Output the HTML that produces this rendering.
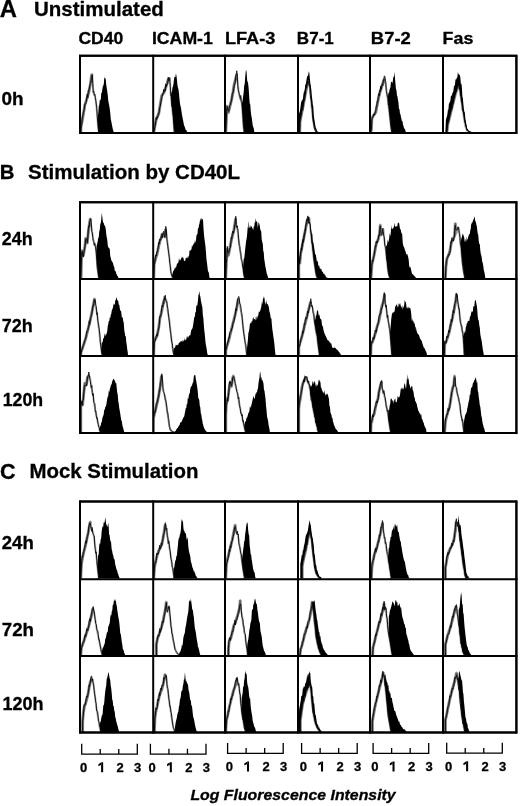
<!DOCTYPE html>
<html><head><meta charset="utf-8"><style>
html,body{margin:0;padding:0;background:#fff;width:520px;height:806px;overflow:hidden}
svg{display:block;filter:blur(0.4px)}
</style></head><body>
<svg width="520" height="806" viewBox="0 0 520 806">
<defs><clipPath id="kA0"><rect x="80.00" y="55.80" width="73.20" height="77.20"/></clipPath><clipPath id="kA1"><rect x="153.20" y="55.80" width="71.80" height="77.20"/></clipPath><clipPath id="kA2"><rect x="225.00" y="55.80" width="73.00" height="77.20"/></clipPath><clipPath id="kA3"><rect x="298.00" y="55.80" width="72.00" height="77.20"/></clipPath><clipPath id="kA4"><rect x="370.00" y="55.80" width="73.00" height="77.20"/></clipPath><clipPath id="kA5"><rect x="443.00" y="55.80" width="73.40" height="77.20"/></clipPath><clipPath id="kB10"><rect x="80.00" y="202.20" width="73.20" height="76.80"/></clipPath><clipPath id="kB11"><rect x="153.20" y="202.20" width="71.80" height="76.80"/></clipPath><clipPath id="kB12"><rect x="225.00" y="202.20" width="73.00" height="76.80"/></clipPath><clipPath id="kB13"><rect x="298.00" y="202.20" width="72.00" height="76.80"/></clipPath><clipPath id="kB14"><rect x="370.00" y="202.20" width="73.00" height="76.80"/></clipPath><clipPath id="kB15"><rect x="443.00" y="202.20" width="73.40" height="76.80"/></clipPath><clipPath id="kB20"><rect x="80.00" y="279.00" width="73.20" height="77.00"/></clipPath><clipPath id="kB21"><rect x="153.20" y="279.00" width="71.80" height="77.00"/></clipPath><clipPath id="kB22"><rect x="225.00" y="279.00" width="73.00" height="77.00"/></clipPath><clipPath id="kB23"><rect x="298.00" y="279.00" width="72.00" height="77.00"/></clipPath><clipPath id="kB24"><rect x="370.00" y="279.00" width="73.00" height="77.00"/></clipPath><clipPath id="kB25"><rect x="443.00" y="279.00" width="73.40" height="77.00"/></clipPath><clipPath id="kB30"><rect x="80.00" y="356.00" width="73.20" height="77.10"/></clipPath><clipPath id="kB31"><rect x="153.20" y="356.00" width="71.80" height="77.10"/></clipPath><clipPath id="kB32"><rect x="225.00" y="356.00" width="73.00" height="77.10"/></clipPath><clipPath id="kB33"><rect x="298.00" y="356.00" width="72.00" height="77.10"/></clipPath><clipPath id="kB34"><rect x="370.00" y="356.00" width="73.00" height="77.10"/></clipPath><clipPath id="kB35"><rect x="443.00" y="356.00" width="73.40" height="77.10"/></clipPath><clipPath id="kC10"><rect x="80.00" y="501.40" width="73.20" height="77.80"/></clipPath><clipPath id="kC11"><rect x="153.20" y="501.40" width="71.80" height="77.80"/></clipPath><clipPath id="kC12"><rect x="225.00" y="501.40" width="73.00" height="77.80"/></clipPath><clipPath id="kC13"><rect x="298.00" y="501.40" width="72.00" height="77.80"/></clipPath><clipPath id="kC14"><rect x="370.00" y="501.40" width="73.00" height="77.80"/></clipPath><clipPath id="kC15"><rect x="443.00" y="501.40" width="73.40" height="77.80"/></clipPath><clipPath id="kC20"><rect x="80.00" y="579.20" width="73.20" height="76.80"/></clipPath><clipPath id="kC21"><rect x="153.20" y="579.20" width="71.80" height="76.80"/></clipPath><clipPath id="kC22"><rect x="225.00" y="579.20" width="73.00" height="76.80"/></clipPath><clipPath id="kC23"><rect x="298.00" y="579.20" width="72.00" height="76.80"/></clipPath><clipPath id="kC24"><rect x="370.00" y="579.20" width="73.00" height="76.80"/></clipPath><clipPath id="kC25"><rect x="443.00" y="579.20" width="73.40" height="76.80"/></clipPath><clipPath id="kC30"><rect x="80.00" y="656.00" width="73.20" height="76.60"/></clipPath><clipPath id="kC31"><rect x="153.20" y="656.00" width="71.80" height="76.60"/></clipPath><clipPath id="kC32"><rect x="225.00" y="656.00" width="73.00" height="76.60"/></clipPath><clipPath id="kC33"><rect x="298.00" y="656.00" width="72.00" height="76.60"/></clipPath><clipPath id="kC34"><rect x="370.00" y="656.00" width="73.00" height="76.60"/></clipPath><clipPath id="kC35"><rect x="443.00" y="656.00" width="73.40" height="76.60"/></clipPath></defs>
<rect width="520" height="806" fill="#fff"/>
<g clip-path="url(#kA0)"><polygon points="96.77,132.46 96.77,132.50 97.27,124.50 97.77,116.69 98.27,113.03 98.77,106.18 99.27,105.10 99.77,100.27 100.27,99.29 100.77,100.42 101.27,92.53 101.77,93.29 102.27,89.83 102.77,86.56 103.27,85.75 103.77,83.98 104.27,78.24 104.77,77.18 105.27,78.21 105.77,79.58 106.27,84.91 106.77,88.28 107.27,91.53 107.77,95.29 108.27,100.69 108.77,103.34 109.27,105.90 109.77,108.80 110.27,113.36 110.77,119.07 111.27,121.36 111.77,123.98 112.27,126.42 112.77,128.90 113.27,130.80 113.69,132.46" fill="#000"/><polygon points="80.77,132.46 81.08,126.31 82.62,118.62 84.92,104.77 86.46,100.15 88.77,92.46 90.31,84.77 91.54,75.54 92.15,74.00 92.77,81.69 93.38,92.46 94.92,95.54 95.69,100.15 96.46,106.31 97.23,115.54 98.00,126.31 98.77,132.46" fill="#fff"/><polyline points="80.77,132.46 81.08,126.31 82.62,118.62 84.92,104.77 86.46,100.15 88.77,92.46 90.31,84.77 91.54,75.54 92.15,74.00 92.77,81.69 93.38,92.46 94.92,95.54 95.69,100.15 96.46,106.31 97.23,115.54 98.00,126.31 98.77,132.46" fill="none" stroke="#aaa" stroke-width="2.0" stroke-linejoin="round" style="mix-blend-mode:multiply"/><polyline points="80.77,132.46 81.08,126.31 82.62,118.62 84.92,104.77 86.46,100.15 88.77,92.46 90.31,84.77 91.54,75.54 92.15,74.00" fill="none" stroke="#999" stroke-width="3.00" stroke-linejoin="round" style="mix-blend-mode:multiply"/><polyline points="80.77,132.46 80.77,131.95 81.27,125.54 81.77,124.59 82.27,116.85 82.77,115.59 83.27,112.68 83.77,111.15 84.27,109.31 84.77,104.39 85.27,104.58 85.77,103.76 86.27,101.60 86.77,96.78 87.27,93.96 87.77,97.89 88.27,90.63 88.77,91.47 89.27,87.92 89.77,85.32 90.27,83.58 90.77,83.13 91.27,79.59 91.77,77.06 92.27,74.95 92.77,83.79 93.27,92.37 93.77,90.85 94.27,95.36 94.77,94.21 95.27,97.21 95.77,100.29 96.27,104.06 96.77,108.24 97.27,116.75 97.77,122.43 98.27,128.08 98.77,132.53 98.77,132.46" fill="none" stroke="#222" stroke-width="1.00" style="mix-blend-mode:multiply"/></g>
<g clip-path="url(#kA1)"><polygon points="169.46,132.46 169.46,132.52 169.96,109.79 170.46,98.31 170.96,96.27 171.46,91.44 171.96,92.25 172.46,87.39 172.96,86.45 173.46,84.08 173.96,79.18 174.46,76.25 174.96,77.82 175.46,76.54 175.96,73.16 176.46,76.06 176.96,79.78 177.46,85.19 177.96,87.74 178.46,89.16 178.96,93.55 179.46,98.77 179.96,103.23 180.46,105.91 180.96,107.69 181.46,111.30 181.96,114.38 182.46,117.19 182.96,119.63 183.46,122.31 183.96,124.91 184.46,126.30 184.96,127.42 185.46,129.37 185.96,130.22 186.46,129.93 186.96,131.93 187.46,131.83 187.62,132.46" fill="#000"/><polygon points="153.77,132.46 154.85,126.31 156.38,118.62 158.69,114.00 160.23,104.77 161.77,95.54 164.08,92.46 165.62,87.85 167.15,83.23 168.23,79.38 169.46,78.62 170.23,84.77 170.69,94.00 171.77,104.77 173.31,118.62 174.38,132.46" fill="#fff"/><polyline points="153.77,132.46 154.85,126.31 156.38,118.62 158.69,114.00 160.23,104.77 161.77,95.54 164.08,92.46 165.62,87.85 167.15,83.23 168.23,79.38 169.46,78.62 170.23,84.77 170.69,94.00 171.77,104.77 173.31,118.62 174.38,132.46" fill="none" stroke="#aaa" stroke-width="2.0" stroke-linejoin="round" style="mix-blend-mode:multiply"/><polyline points="153.77,132.46 154.85,126.31 156.38,118.62 158.69,114.00 160.23,104.77 161.77,95.54 164.08,92.46 165.62,87.85 167.15,83.23 168.23,79.38 169.46,78.62" fill="none" stroke="#999" stroke-width="3.00" stroke-linejoin="round" style="mix-blend-mode:multiply"/><polyline points="153.77,132.46 153.77,132.55 154.27,129.82 154.77,127.57 155.27,125.46 155.77,120.49 156.27,117.38 156.77,119.44 157.27,117.15 157.77,117.95 158.27,113.17 158.77,113.52 159.27,111.67 159.77,107.39 160.27,106.14 160.77,102.62 161.27,100.03 161.77,97.64 162.27,96.77 162.77,93.63 163.27,93.45 163.77,89.37 164.27,91.75 164.77,89.76 165.27,90.98 165.77,83.88 166.27,87.07 166.77,84.40 167.27,84.46 167.77,83.13 168.27,77.11 168.77,80.96 169.27,80.37 169.77,77.58 170.27,86.26 170.77,95.91 171.27,96.27 171.77,106.87 172.27,107.22 172.77,112.13 173.27,116.89 173.77,125.67 174.27,131.25 174.38,132.46" fill="none" stroke="#222" stroke-width="1.00" style="mix-blend-mode:multiply"/></g>
<g clip-path="url(#kA2)"><polygon points="240.69,132.46 240.69,132.59 241.19,112.66 241.69,100.25 242.19,103.02 242.69,99.66 243.19,96.35 243.69,92.23 244.19,85.59 244.69,83.93 245.19,77.61 245.69,71.50 246.19,69.63 246.69,73.47 247.19,80.73 247.69,81.68 248.19,83.96 248.69,89.03 249.19,96.57 249.69,103.48 250.19,103.65 250.69,110.62 251.19,114.92 251.69,117.61 252.19,121.18 252.69,125.22 253.19,127.01 253.69,127.91 254.19,131.34 254.54,132.46" fill="#000"/><polygon points="225.77,132.46 226.38,118.62 226.85,106.31 228.38,112.46 229.92,106.31 231.46,100.15 233.00,92.46 234.08,84.77 235.31,80.15 236.85,74.00 237.62,81.69 238.38,89.38 239.15,95.54 240.69,98.62 241.77,103.23 242.69,115.54 243.46,126.31 244.23,132.46" fill="#fff"/><polyline points="225.77,132.46 226.38,118.62 226.85,106.31 228.38,112.46 229.92,106.31 231.46,100.15 233.00,92.46 234.08,84.77 235.31,80.15 236.85,74.00 237.62,81.69 238.38,89.38 239.15,95.54 240.69,98.62 241.77,103.23 242.69,115.54 243.46,126.31 244.23,132.46" fill="none" stroke="#aaa" stroke-width="2.0" stroke-linejoin="round" style="mix-blend-mode:multiply"/><polyline points="225.77,132.46 226.38,118.62 226.85,106.31 228.38,112.46 229.92,106.31 231.46,100.15 233.00,92.46 234.08,84.77 235.31,80.15 236.85,74.00" fill="none" stroke="#999" stroke-width="3.00" stroke-linejoin="round" style="mix-blend-mode:multiply"/><polyline points="225.77,132.46 225.77,132.65 226.27,121.47 226.77,108.44 227.27,106.75 227.77,108.94 228.27,111.17 228.77,111.36 229.27,107.06 229.77,105.39 230.27,104.92 230.77,102.92 231.27,101.21 231.77,99.33 232.27,93.04 232.77,92.27 233.27,92.35 233.77,88.79 234.27,85.54 234.77,84.27 235.27,82.40 235.77,75.60 236.27,74.43 236.77,70.81 237.27,75.72 237.77,85.33 238.27,90.10 238.77,92.01 239.27,93.63 239.77,95.05 240.27,99.32 240.77,95.47 241.27,101.44 241.77,102.33 242.27,107.88 242.77,114.35 243.27,123.78 243.77,128.00 244.23,132.46" fill="none" stroke="#222" stroke-width="1.00" style="mix-blend-mode:multiply"/></g>
<g clip-path="url(#kA3)"><polygon points="298.31,132.46 298.31,132.46 298.81,115.07 299.31,112.77 299.81,111.31 300.31,108.45 300.81,104.81 301.31,100.05 301.81,102.15 302.31,99.60 302.81,99.63 303.31,95.64 303.81,91.98 304.31,91.79 304.81,89.13 305.31,84.52 305.81,84.47 306.31,81.77 306.81,78.12 307.31,75.61 307.81,76.44 308.31,74.20 308.81,71.35 309.31,72.85 309.81,77.67 310.31,83.22 310.81,85.75 311.31,89.50 311.81,95.98 312.31,99.50 312.81,104.86 313.31,106.56 313.81,115.68 314.31,118.95 314.81,122.06 315.31,125.17 315.81,128.10 316.31,128.59 316.81,130.41 317.31,131.29 317.81,131.90 318.31,131.85 318.81,132.40 319.08,132.46" fill="#000"/><polygon points="299.69,132.46 300.00,121.69 301.54,114.00 303.38,104.77 305.23,94.77 306.77,87.08 308.31,79.38 309.54,85.54 310.46,94.77 311.38,104.00 312.31,113.23 313.23,121.69 314.46,127.85 316.00,131.69 317.54,132.46" fill="#fff"/><polyline points="299.69,132.46 300.00,121.69 301.54,114.00 303.38,104.77 305.23,94.77 306.77,87.08 308.31,79.38 309.54,85.54 310.46,94.77 311.38,104.00 312.31,113.23 313.23,121.69 314.46,127.85 316.00,131.69 317.54,132.46" fill="none" stroke="#aaa" stroke-width="2.0" stroke-linejoin="round" style="mix-blend-mode:multiply"/><polyline points="299.69,132.46 300.00,121.69 301.54,114.00 303.38,104.77 305.23,94.77 306.77,87.08 308.31,79.38" fill="none" stroke="#999" stroke-width="3.00" stroke-linejoin="round" style="mix-blend-mode:multiply"/><polyline points="299.69,132.46 299.69,132.42 300.19,117.23 300.69,117.64 301.19,113.50 301.69,109.73 302.19,109.37 302.69,110.33 303.19,106.88 303.69,100.62 304.19,101.23 304.69,99.53 305.19,94.24 305.69,88.96 306.19,86.46 306.69,87.38 307.19,83.02 307.69,83.92 308.19,82.06 308.69,81.24 309.19,85.91 309.69,84.78 310.19,93.36 310.69,98.32 311.19,100.27 311.69,105.09 312.19,108.73 312.69,118.07 313.19,121.34 313.69,122.87 314.19,127.78 314.69,129.52 315.19,130.46 315.69,131.60 316.19,131.81 316.69,131.89 317.19,132.28 317.54,132.46" fill="none" stroke="#222" stroke-width="1.00" style="mix-blend-mode:multiply"/></g>
<g clip-path="url(#kA4)"><polygon points="386.46,132.46 386.46,132.12 386.96,109.75 387.46,97.48 387.96,96.99 388.46,91.83 388.96,93.80 389.46,89.78 389.96,88.61 390.46,86.98 390.96,82.28 391.46,81.61 391.96,82.30 392.46,83.29 392.96,79.54 393.46,75.98 393.96,77.53 394.46,71.82 394.96,77.40 395.46,83.82 395.96,89.03 396.46,90.29 396.96,95.47 397.46,96.58 397.96,100.07 398.46,102.71 398.96,109.08 399.46,108.91 399.96,113.62 400.46,114.34 400.96,116.90 401.46,118.93 401.96,121.52 402.46,120.84 402.96,124.43 403.46,125.91 403.96,127.94 404.46,128.79 404.96,129.00 405.46,130.96 405.96,132.06 406.15,132.46" fill="#000"/><polygon points="370.77,132.46 371.38,129.38 371.85,118.62 373.38,115.54 375.69,112.46 377.23,104.77 378.77,97.08 380.31,90.92 381.85,86.31 383.38,81.69 384.62,78.62 385.69,84.77 386.77,92.46 387.69,98.62 388.77,107.85 389.85,117.08 391.08,127.85 391.85,132.46" fill="#fff"/><polyline points="370.77,132.46 371.38,129.38 371.85,118.62 373.38,115.54 375.69,112.46 377.23,104.77 378.77,97.08 380.31,90.92 381.85,86.31 383.38,81.69 384.62,78.62 385.69,84.77 386.77,92.46 387.69,98.62 388.77,107.85 389.85,117.08 391.08,127.85 391.85,132.46" fill="none" stroke="#aaa" stroke-width="2.0" stroke-linejoin="round" style="mix-blend-mode:multiply"/><polyline points="370.77,132.46 371.38,129.38 371.85,118.62 373.38,115.54 375.69,112.46 377.23,104.77 378.77,97.08 380.31,90.92 381.85,86.31 383.38,81.69 384.62,78.62" fill="none" stroke="#999" stroke-width="3.00" stroke-linejoin="round" style="mix-blend-mode:multiply"/><polyline points="370.77,132.46 370.77,131.67 371.27,130.23 371.77,120.97 372.27,118.10 372.77,117.06 373.27,116.42 373.77,114.09 374.27,114.80 374.77,115.03 375.27,111.21 375.77,110.41 376.27,106.08 376.77,106.14 377.27,101.08 377.77,102.03 378.27,96.44 378.77,93.58 379.27,96.05 379.77,90.38 380.27,91.97 380.77,86.04 381.27,89.68 381.77,86.01 382.27,84.04 382.77,85.64 383.27,79.83 383.77,80.67 384.27,75.98 384.77,75.99 385.27,80.22 385.77,81.82 386.27,90.67 386.77,93.14 387.27,96.45 387.77,95.77 388.27,105.00 388.77,104.35 389.27,111.04 389.77,114.78 390.27,120.72 390.77,125.06 391.27,129.28 391.77,131.93 391.85,132.46" fill="none" stroke="#222" stroke-width="1.00" style="mix-blend-mode:multiply"/></g>
<g clip-path="url(#kA5)"><polygon points="445.38,132.46 445.38,132.62 445.88,119.92 446.38,117.71 446.88,116.77 447.38,114.28 447.88,109.98 448.38,109.78 448.88,103.67 449.38,103.29 449.88,101.78 450.38,100.86 450.88,96.19 451.38,95.15 451.88,96.12 452.38,93.04 452.88,92.60 453.38,91.24 453.88,86.16 454.38,85.84 454.88,85.22 455.38,80.37 455.88,79.04 456.38,79.50 456.88,77.59 457.38,77.25 457.88,71.65 458.38,74.74 458.88,73.18 459.38,75.47 459.88,74.77 460.38,78.06 460.88,84.28 461.38,83.42 461.88,87.37 462.38,96.39 462.88,98.37 463.38,104.00 463.88,109.11 464.38,111.71 464.88,112.65 465.38,118.94 465.88,121.16 466.38,124.72 466.88,127.13 467.38,129.24 467.88,128.79 468.38,131.48 468.88,130.25 469.38,131.42 469.88,130.96 470.38,132.09 470.88,131.95 471.38,131.85 471.88,132.24 472.31,132.46" fill="#000"/><polygon points="446.92,132.46 447.69,124.77 449.23,118.62 450.77,112.46 452.31,106.31 453.85,100.15 455.38,94.00 456.92,89.38 458.46,84.77 459.69,89.38 460.77,97.08 461.85,104.77 463.08,112.46 464.31,120.15 465.38,126.31 466.92,130.15 469.23,131.69 470.77,132.46" fill="#fff"/><polyline points="446.92,132.46 447.69,124.77 449.23,118.62 450.77,112.46 452.31,106.31 453.85,100.15 455.38,94.00 456.92,89.38 458.46,84.77 459.69,89.38 460.77,97.08 461.85,104.77 463.08,112.46 464.31,120.15 465.38,126.31 466.92,130.15 469.23,131.69 470.77,132.46" fill="none" stroke="#aaa" stroke-width="2.0" stroke-linejoin="round" style="mix-blend-mode:multiply"/><polyline points="446.92,132.46 447.69,124.77 449.23,118.62 450.77,112.46 452.31,106.31 453.85,100.15 455.38,94.00 456.92,89.38 458.46,84.77" fill="none" stroke="#999" stroke-width="3.00" stroke-linejoin="round" style="mix-blend-mode:multiply"/><polyline points="446.92,132.46 446.92,132.74 447.42,127.21 447.92,122.79 448.42,122.63 448.92,120.31 449.42,118.02 449.92,115.46 450.42,111.87 450.92,111.90 451.42,106.72 451.92,109.13 452.42,105.69 452.92,104.25 453.42,102.85 453.92,98.67 454.42,98.15 454.92,95.03 455.42,94.49 455.92,90.28 456.42,91.70 456.92,87.82 457.42,84.38 457.92,82.88 458.42,81.38 458.92,86.20 459.42,89.66 459.92,87.53 460.42,96.13 460.92,96.54 461.42,101.98 461.92,101.75 462.42,110.47 462.92,109.68 463.42,112.86 463.92,114.25 464.42,120.31 464.92,122.38 465.42,123.37 465.92,124.82 466.42,127.98 466.92,130.58 467.42,130.69 467.92,130.93 468.42,130.81 468.92,132.05 469.42,131.21 469.92,132.10 470.42,131.89 470.77,132.46" fill="none" stroke="#222" stroke-width="1.00" style="mix-blend-mode:multiply"/></g>
<g clip-path="url(#kB10)"><polygon points="95.23,278.46 95.23,278.54 95.73,263.86 96.23,251.50 96.73,246.05 97.23,243.38 97.73,241.58 98.23,237.87 98.73,237.84 99.23,231.48 99.73,229.97 100.23,224.41 100.73,222.91 101.23,219.42 101.73,212.71 102.23,216.41 102.73,220.24 103.23,223.62 103.73,222.16 104.23,225.10 104.73,225.78 105.23,226.43 105.73,229.07 106.23,234.07 106.73,237.20 107.23,239.59 107.73,245.10 108.23,247.64 108.73,247.31 109.23,248.58 109.73,248.64 110.23,255.74 110.73,257.84 111.23,259.88 111.73,261.11 112.23,261.93 112.73,262.31 113.23,264.02 113.73,266.37 114.23,266.79 114.73,270.42 115.23,271.28 115.73,271.23 116.23,273.49 116.73,274.61 117.23,276.29 117.73,275.39 118.23,277.44 118.73,278.50 118.77,278.46" fill="#000"/><polygon points="80.77,278.46 81.08,276.92 81.38,261.54 81.85,250.77 83.38,255.38 84.92,246.15 85.69,238.46 87.23,243.08 88.46,230.77 89.54,223.08 90.31,218.46 91.08,224.62 92.15,232.31 93.38,240.00 94.62,244.62 95.69,246.15 96.46,255.38 97.23,266.15 98.31,275.38 99.23,278.46" fill="#fff"/><polyline points="80.77,278.46 81.08,276.92 81.38,261.54 81.85,250.77 83.38,255.38 84.92,246.15 85.69,238.46 87.23,243.08 88.46,230.77 89.54,223.08 90.31,218.46 91.08,224.62 92.15,232.31 93.38,240.00 94.62,244.62 95.69,246.15 96.46,255.38 97.23,266.15 98.31,275.38 99.23,278.46" fill="none" stroke="#aaa" stroke-width="2.0" stroke-linejoin="round" style="mix-blend-mode:multiply"/><polyline points="80.77,278.46 81.08,276.92 81.38,261.54 81.85,250.77 83.38,255.38 84.92,246.15 85.69,238.46 87.23,243.08 88.46,230.77 89.54,223.08 90.31,218.46" fill="none" stroke="#999" stroke-width="3.00" stroke-linejoin="round" style="mix-blend-mode:multiply"/><polyline points="80.77,278.46 80.77,278.08 81.27,265.16 81.77,252.58 82.27,251.25 82.77,255.64 83.27,257.14 83.77,253.02 84.27,249.93 84.77,248.37 85.27,243.92 85.77,239.58 86.27,238.61 86.77,238.95 87.27,242.65 87.77,238.09 88.27,229.19 88.77,225.82 89.27,226.69 89.77,221.61 90.27,219.96 90.77,218.65 91.27,222.49 91.77,231.66 92.27,232.69 92.77,237.40 93.27,240.84 93.77,241.38 94.27,245.42 94.77,243.12 95.27,246.23 95.77,249.13 96.27,252.84 96.77,260.23 97.27,267.81 97.77,270.44 98.27,274.51 98.77,277.75 99.23,278.46" fill="none" stroke="#222" stroke-width="1.00" style="mix-blend-mode:multiply"/></g>
<g clip-path="url(#kB11)"><polygon points="171.00,278.46 171.00,278.55 171.50,277.49 172.00,275.42 172.50,273.92 173.00,271.56 173.50,270.93 174.00,269.63 174.50,269.21 175.00,266.41 175.50,268.46 176.00,267.16 176.50,266.02 177.00,263.21 177.50,263.76 178.00,262.77 178.50,262.00 179.00,257.99 179.50,259.84 180.00,260.74 180.50,260.09 181.00,258.69 181.50,257.91 182.00,256.18 182.50,258.19 183.00,256.94 183.50,258.37 184.00,260.99 184.50,260.65 185.00,261.23 185.50,259.14 186.00,257.41 186.50,257.49 187.00,258.72 187.50,256.25 188.00,258.70 188.50,255.38 189.00,257.02 189.50,250.41 190.00,250.19 190.50,250.94 191.00,249.41 191.50,249.55 192.00,244.72 192.50,246.63 193.00,245.20 193.50,244.37 194.00,242.91 194.50,243.16 195.00,239.78 195.50,243.12 196.00,239.94 196.50,235.02 197.00,234.87 197.50,233.63 198.00,227.60 198.50,228.85 199.00,224.99 199.50,223.61 200.00,220.12 200.50,217.99 201.00,221.58 201.50,218.24 202.00,218.87 202.50,219.35 203.00,219.58 203.50,228.50 204.00,235.10 204.50,239.31 205.00,242.85 205.50,246.68 206.00,252.76 206.50,259.66 207.00,263.04 207.50,267.52 208.00,271.46 208.50,271.74 209.00,273.87 209.50,277.55 209.77,278.46" fill="#000"/><polygon points="153.77,278.46 153.77,276.92 154.08,264.62 155.62,258.46 157.15,253.85 158.69,246.15 160.23,240.00 161.77,236.92 163.31,233.85 164.85,236.92 165.62,229.23 166.38,232.31 167.15,240.00 167.92,246.15 168.69,252.31 169.46,258.46 170.23,266.15 171.00,272.31 172.23,276.92 173.31,278.46" fill="#fff"/><polyline points="153.77,278.46 153.77,276.92 154.08,264.62 155.62,258.46 157.15,253.85 158.69,246.15 160.23,240.00 161.77,236.92 163.31,233.85 164.85,236.92 165.62,229.23 166.38,232.31 167.15,240.00 167.92,246.15 168.69,252.31 169.46,258.46 170.23,266.15 171.00,272.31 172.23,276.92 173.31,278.46" fill="none" stroke="#aaa" stroke-width="2.0" stroke-linejoin="round" style="mix-blend-mode:multiply"/><polyline points="153.77,278.46 153.77,276.92 154.08,264.62 155.62,258.46 157.15,253.85 158.69,246.15 160.23,240.00 161.77,236.92 163.31,233.85 164.85,236.92 165.62,229.23" fill="none" stroke="#999" stroke-width="3.00" stroke-linejoin="round" style="mix-blend-mode:multiply"/><polyline points="153.77,278.46 153.77,277.06 154.27,262.88 154.77,262.71 155.27,258.03 155.77,254.92 156.27,256.06 156.77,251.94 157.27,251.92 157.77,249.53 158.27,246.78 158.77,242.35 159.27,243.87 159.77,239.24 160.27,240.47 160.77,239.96 161.27,234.42 161.77,233.42 162.27,238.02 162.77,234.35 163.27,232.40 163.77,231.27 164.27,235.14 164.77,237.09 165.27,233.50 165.77,226.35 166.27,229.03 166.77,238.15 167.27,242.50 167.77,245.90 168.27,249.92 168.77,253.43 169.27,257.24 169.77,263.38 170.27,265.28 170.77,271.18 171.27,273.90 171.77,275.53 172.27,276.62 172.77,277.39 173.27,278.57 173.31,278.46" fill="none" stroke="#222" stroke-width="1.00" style="mix-blend-mode:multiply"/></g>
<g clip-path="url(#kB12)"><polygon points="242.23,278.46 242.23,278.56 242.73,271.78 243.23,264.42 243.73,258.71 244.23,258.61 244.73,253.66 245.23,248.64 245.73,244.34 246.23,240.50 246.73,238.08 247.23,233.32 247.73,226.55 248.23,228.72 248.73,220.65 249.23,226.77 249.73,227.65 250.23,228.00 250.73,225.23 251.23,226.74 251.73,225.88 252.23,229.32 252.73,227.41 253.23,230.45 253.73,226.62 254.23,226.45 254.73,222.28 255.23,222.60 255.73,217.88 256.23,222.61 256.73,220.79 257.23,221.99 257.73,227.88 258.23,224.69 258.73,222.11 259.23,223.60 259.73,225.65 260.23,229.24 260.73,230.40 261.23,231.48 261.73,239.65 262.23,241.89 262.73,243.43 263.23,251.10 263.73,251.98 264.23,259.31 264.73,261.88 265.23,265.70 265.73,268.13 266.23,270.87 266.73,273.47 267.23,274.45 267.73,276.42 268.23,277.91 268.73,278.53 268.85,278.46" fill="#000"/><polygon points="225.77,278.46 225.77,276.92 226.38,261.54 227.31,249.23 228.38,255.38 229.92,247.69 231.46,240.00 232.54,235.38 233.77,230.77 235.00,223.08 235.62,218.46 236.54,226.15 237.62,230.77 238.38,238.46 239.15,243.08 239.92,249.23 241.15,256.92 242.23,263.08 243.31,270.77 244.23,276.92 244.85,278.46" fill="#fff"/><polyline points="225.77,278.46 225.77,276.92 226.38,261.54 227.31,249.23 228.38,255.38 229.92,247.69 231.46,240.00 232.54,235.38 233.77,230.77 235.00,223.08 235.62,218.46 236.54,226.15 237.62,230.77 238.38,238.46 239.15,243.08 239.92,249.23 241.15,256.92 242.23,263.08 243.31,270.77 244.23,276.92 244.85,278.46" fill="none" stroke="#aaa" stroke-width="2.0" stroke-linejoin="round" style="mix-blend-mode:multiply"/><polyline points="225.77,278.46 225.77,276.92 226.38,261.54 227.31,249.23 228.38,255.38 229.92,247.69 231.46,240.00 232.54,235.38 233.77,230.77 235.00,223.08 235.62,218.46" fill="none" stroke="#999" stroke-width="3.00" stroke-linejoin="round" style="mix-blend-mode:multiply"/><polyline points="225.77,278.46 225.77,277.38 226.27,263.59 226.77,258.51 227.27,246.24 227.77,252.34 228.27,252.98 228.77,252.82 229.27,250.08 229.77,248.42 230.27,247.90 230.77,243.57 231.27,237.46 231.77,238.83 232.27,233.50 232.77,231.02 233.27,233.40 233.77,230.96 234.27,229.74 234.77,225.04 235.27,223.16 235.77,216.24 236.27,224.36 236.77,227.47 237.27,225.79 237.77,228.81 238.27,233.81 238.77,239.96 239.27,245.91 239.77,246.41 240.27,252.12 240.77,252.39 241.27,259.68 241.77,260.58 242.27,262.54 242.77,267.69 243.27,268.87 243.77,274.70 244.27,276.38 244.77,277.93 244.85,278.46" fill="none" stroke="#222" stroke-width="1.00" style="mix-blend-mode:multiply"/></g>
<g clip-path="url(#kB13)"><polygon points="298.31,278.46 298.31,278.55 298.81,265.48 299.31,258.09 299.81,255.97 300.31,252.94 300.81,250.22 301.31,246.88 301.81,243.28 302.31,242.39 302.81,239.55 303.31,238.88 303.81,232.94 304.31,235.35 304.81,228.82 305.31,229.44 305.81,225.62 306.31,221.95 306.81,224.98 307.31,221.48 307.81,219.29 308.31,216.55 308.81,218.30 309.31,222.76 309.81,218.98 310.31,224.79 310.81,227.43 311.31,231.51 311.81,234.61 312.31,233.42 312.81,241.52 313.31,242.46 313.81,245.05 314.31,248.19 314.81,251.96 315.31,254.73 315.81,254.45 316.31,257.74 316.81,261.55 317.31,262.00 317.81,260.01 318.31,265.67 318.81,265.46 319.31,265.93 319.81,268.59 320.31,268.25 320.81,269.51 321.31,268.83 321.81,271.13 322.31,271.98 322.81,271.24 323.31,273.45 323.81,274.01 324.31,273.62 324.81,274.95 325.31,275.16 325.81,276.74 326.31,277.35 326.81,277.38 327.31,277.60 327.54,278.46" fill="#000"/><polygon points="298.77,278.46 298.77,261.54 299.85,263.08 300.62,253.85 302.15,246.15 303.69,238.46 305.23,230.77 306.77,223.08 307.54,218.46 308.31,221.54 309.54,218.46 310.15,227.69 311.08,235.38 312.15,244.62 312.92,252.31 314.15,261.54 315.23,269.23 316.31,275.38 317.54,278.46" fill="#fff"/><polyline points="298.77,278.46 298.77,261.54 299.85,263.08 300.62,253.85 302.15,246.15 303.69,238.46 305.23,230.77 306.77,223.08 307.54,218.46 308.31,221.54 309.54,218.46 310.15,227.69 311.08,235.38 312.15,244.62 312.92,252.31 314.15,261.54 315.23,269.23 316.31,275.38 317.54,278.46" fill="none" stroke="#aaa" stroke-width="2.0" stroke-linejoin="round" style="mix-blend-mode:multiply"/><polyline points="298.77,278.46 298.77,261.54 299.85,263.08 300.62,253.85 302.15,246.15 303.69,238.46 305.23,230.77 306.77,223.08 307.54,218.46" fill="none" stroke="#999" stroke-width="3.00" stroke-linejoin="round" style="mix-blend-mode:multiply"/><polyline points="298.77,278.46 298.77,262.63 299.27,264.27 299.77,260.53 300.27,256.28 300.77,253.09 301.27,248.42 301.77,250.18 302.27,246.84 302.77,239.58 303.27,242.50 303.77,240.18 304.27,236.03 304.77,233.75 305.27,231.60 305.77,224.58 306.27,222.08 306.77,219.72 307.27,220.19 307.77,215.88 308.27,223.48 308.77,216.90 309.27,221.23 309.77,224.02 310.27,225.15 310.77,232.18 311.27,234.99 311.77,243.42 312.27,243.04 312.77,249.00 313.27,252.62 313.77,258.68 314.27,262.52 314.77,264.95 315.27,269.15 315.77,272.33 316.27,275.60 316.77,275.89 317.27,277.85 317.54,278.46" fill="none" stroke="#222" stroke-width="1.00" style="mix-blend-mode:multiply"/></g>
<g clip-path="url(#kB14)"><polygon points="385.23,278.46 385.23,278.61 385.73,248.78 386.23,245.12 386.73,246.27 387.23,243.49 387.73,239.62 388.23,242.45 388.73,240.48 389.23,237.75 389.73,232.65 390.23,236.25 390.73,233.53 391.23,225.07 391.73,228.89 392.23,229.01 392.73,228.83 393.23,227.06 393.73,228.54 394.23,222.70 394.73,225.39 395.23,227.02 395.73,226.16 396.23,226.19 396.73,226.41 397.23,226.45 397.73,223.24 398.23,223.00 398.73,222.13 399.23,223.87 399.73,227.26 400.23,229.97 400.73,228.54 401.23,234.20 401.73,232.06 402.23,234.49 402.73,242.79 403.23,245.19 403.73,246.96 404.23,247.52 404.73,249.34 405.23,250.71 405.73,251.91 406.23,254.59 406.73,254.22 407.23,253.79 407.73,255.65 408.23,257.26 408.73,260.29 409.23,266.05 409.73,267.49 410.23,266.81 410.73,268.30 411.23,270.28 411.73,272.69 412.23,273.98 412.73,274.31 413.23,274.46 413.73,275.56 414.23,275.79 414.73,276.58 415.23,276.87 415.73,277.51 416.23,277.93 416.46,278.46" fill="#000"/><polygon points="370.77,278.46 371.08,276.92 371.85,264.62 373.38,258.46 374.92,250.77 376.46,243.08 378.00,240.00 379.54,233.85 380.31,224.62 381.08,235.38 382.62,230.77 383.38,229.23 384.15,238.46 384.92,244.62 385.69,249.23 386.46,256.92 387.23,264.62 388.31,272.31 389.54,277.69 390.31,278.46" fill="#fff"/><polyline points="370.77,278.46 371.08,276.92 371.85,264.62 373.38,258.46 374.92,250.77 376.46,243.08 378.00,240.00 379.54,233.85 380.31,224.62 381.08,235.38 382.62,230.77 383.38,229.23 384.15,238.46 384.92,244.62 385.69,249.23 386.46,256.92 387.23,264.62 388.31,272.31 389.54,277.69 390.31,278.46" fill="none" stroke="#aaa" stroke-width="2.0" stroke-linejoin="round" style="mix-blend-mode:multiply"/><polyline points="370.77,278.46 371.08,276.92 371.85,264.62 373.38,258.46 374.92,250.77 376.46,243.08 378.00,240.00 379.54,233.85 380.31,224.62" fill="none" stroke="#999" stroke-width="3.00" stroke-linejoin="round" style="mix-blend-mode:multiply"/><polyline points="370.77,278.46 370.77,278.59 371.27,273.44 371.77,266.61 372.27,259.93 372.77,261.38 373.27,258.48 373.77,256.68 374.27,255.00 374.77,250.28 375.27,245.82 375.77,246.72 376.27,241.15 376.77,243.05 377.27,242.94 377.77,240.78 378.27,238.90 378.77,235.22 379.27,236.01 379.77,229.74 380.27,226.01 380.77,227.58 381.27,234.88 381.77,235.41 382.27,233.91 382.77,228.19 383.27,231.56 383.77,235.95 384.27,237.08 384.77,245.48 385.27,246.41 385.77,248.20 386.27,254.66 386.77,259.99 387.27,261.57 387.77,268.14 388.27,272.51 388.77,275.00 389.27,276.09 389.77,277.38 390.27,278.00 390.31,278.46" fill="none" stroke="#222" stroke-width="1.00" style="mix-blend-mode:multiply"/></g>
<g clip-path="url(#kB15)"><polygon points="458.77,278.46 458.77,278.18 459.27,242.95 459.77,243.06 460.27,242.39 460.77,242.46 461.27,238.47 461.77,237.36 462.27,235.04 462.77,233.38 463.27,234.85 463.77,236.32 464.27,237.96 464.77,242.10 465.27,241.33 465.77,238.46 466.27,242.10 466.77,236.50 467.27,238.78 467.77,240.01 468.27,236.79 468.77,234.99 469.27,233.92 469.77,234.19 470.27,230.13 470.77,228.73 471.27,222.19 471.77,224.63 472.27,220.95 472.77,223.02 473.27,218.15 473.77,220.19 474.27,217.28 474.77,216.57 475.27,222.65 475.77,220.61 476.27,224.47 476.77,225.84 477.27,230.19 477.77,233.69 478.27,235.11 478.77,241.28 479.27,243.88 479.77,243.85 480.27,250.02 480.77,253.71 481.27,255.13 481.77,258.06 482.27,261.88 482.77,262.96 483.27,266.05 483.77,269.90 484.27,271.64 484.77,274.18 485.27,277.88 485.54,278.46" fill="#000"/><polygon points="445.38,278.46 445.85,267.69 446.92,258.46 448.46,255.38 450.00,250.77 451.54,241.54 453.08,240.00 454.62,235.38 455.38,223.08 456.15,233.85 457.69,230.77 458.77,227.69 459.69,235.38 460.31,241.54 460.77,246.15 461.54,253.85 462.31,261.54 463.38,269.23 464.31,275.38 464.92,278.46" fill="#fff"/><polyline points="445.38,278.46 445.85,267.69 446.92,258.46 448.46,255.38 450.00,250.77 451.54,241.54 453.08,240.00 454.62,235.38 455.38,223.08 456.15,233.85 457.69,230.77 458.77,227.69 459.69,235.38 460.31,241.54 460.77,246.15 461.54,253.85 462.31,261.54 463.38,269.23 464.31,275.38 464.92,278.46" fill="none" stroke="#aaa" stroke-width="2.0" stroke-linejoin="round" style="mix-blend-mode:multiply"/><polyline points="445.38,278.46 445.85,267.69 446.92,258.46 448.46,255.38 450.00,250.77 451.54,241.54 453.08,240.00 454.62,235.38 455.38,223.08" fill="none" stroke="#999" stroke-width="3.00" stroke-linejoin="round" style="mix-blend-mode:multiply"/><polyline points="445.38,278.46 445.38,278.50 445.88,266.85 446.38,261.32 446.88,259.28 447.38,258.28 447.88,257.16 448.38,254.35 448.88,255.19 449.38,254.72 449.88,253.09 450.38,248.65 450.88,241.96 451.38,243.06 451.88,237.69 452.38,240.81 452.88,240.31 453.38,241.18 453.88,237.47 454.38,236.88 454.88,227.58 455.38,225.18 455.88,228.98 456.38,230.19 456.88,229.74 457.38,229.90 457.88,226.72 458.38,227.63 458.88,230.25 459.38,233.55 459.88,236.66 460.38,244.15 460.88,243.81 461.38,248.81 461.88,255.12 462.38,263.36 462.88,266.15 463.38,271.33 463.88,273.19 464.38,275.43 464.88,278.49 464.92,278.46" fill="none" stroke="#222" stroke-width="1.00" style="mix-blend-mode:multiply"/></g>
<g clip-path="url(#kB20)"><polygon points="100.77,355.46 100.77,355.66 101.27,350.69 101.77,343.16 102.27,342.29 102.77,341.78 103.27,337.66 103.77,338.84 104.27,336.05 104.77,333.17 105.27,334.61 105.77,336.26 106.27,333.74 106.77,333.51 107.27,330.81 107.77,326.02 108.27,323.95 108.77,320.99 109.27,320.99 109.77,317.35 110.27,318.34 110.77,314.76 111.27,313.65 111.77,310.81 112.27,307.46 112.77,310.26 113.27,305.59 113.77,303.46 114.27,304.48 114.77,304.81 115.27,299.69 115.77,300.46 116.27,297.45 116.77,297.73 117.27,300.85 117.77,300.07 118.27,301.25 118.77,304.85 119.27,304.87 119.77,308.14 120.27,311.26 120.77,309.90 121.27,312.15 121.77,317.08 122.27,317.71 122.77,317.14 123.27,321.54 123.77,322.77 124.27,330.29 124.77,333.09 125.27,336.56 125.77,335.80 126.27,342.06 126.77,345.12 127.27,349.55 127.77,352.59 128.00,355.46" fill="#000"/><polygon points="80.77,355.46 81.08,352.38 82.62,347.77 84.15,343.15 85.69,338.54 87.23,332.38 88.77,326.23 90.31,320.08 91.85,312.38 93.38,304.69 94.62,298.54 95.69,306.23 96.77,312.38 97.69,318.54 98.77,327.77 99.85,337.00 100.77,344.69 101.38,350.85 102.31,355.46" fill="#fff"/><polyline points="80.77,355.46 81.08,352.38 82.62,347.77 84.15,343.15 85.69,338.54 87.23,332.38 88.77,326.23 90.31,320.08 91.85,312.38 93.38,304.69 94.62,298.54 95.69,306.23 96.77,312.38 97.69,318.54 98.77,327.77 99.85,337.00 100.77,344.69 101.38,350.85 102.31,355.46" fill="none" stroke="#aaa" stroke-width="2.0" stroke-linejoin="round" style="mix-blend-mode:multiply"/><polyline points="80.77,355.46 81.08,352.38 82.62,347.77 84.15,343.15 85.69,338.54 87.23,332.38 88.77,326.23 90.31,320.08 91.85,312.38 93.38,304.69 94.62,298.54" fill="none" stroke="#999" stroke-width="3.00" stroke-linejoin="round" style="mix-blend-mode:multiply"/><polyline points="80.77,355.46 80.77,355.40 81.27,352.05 81.77,349.74 82.27,349.16 82.77,347.04 83.27,345.34 83.77,344.51 84.27,342.03 84.77,340.20 85.27,339.83 85.77,337.69 86.27,334.37 86.77,331.32 87.27,331.61 87.77,330.89 88.27,327.73 88.77,327.10 89.27,320.73 89.77,324.33 90.27,318.17 90.77,317.70 91.27,315.66 91.77,314.19 92.27,311.26 92.77,305.92 93.27,306.00 93.77,303.54 94.27,299.48 94.77,301.74 95.27,300.47 95.77,305.47 96.27,306.70 96.77,314.48 97.27,312.69 97.77,320.62 98.27,323.19 98.77,326.87 99.27,329.44 99.77,333.93 100.27,342.17 100.77,345.60 101.27,349.04 101.77,353.08 102.27,355.07 102.31,355.46" fill="none" stroke="#222" stroke-width="1.00" style="mix-blend-mode:multiply"/></g>
<g clip-path="url(#kB21)"><polygon points="172.85,355.46 172.85,355.57 173.35,352.22 173.85,348.58 174.35,347.96 174.85,347.77 175.35,346.53 175.85,344.49 176.35,345.39 176.85,344.82 177.35,345.61 177.85,344.52 178.35,344.86 178.85,342.86 179.35,342.18 179.85,342.72 180.35,342.07 180.85,341.00 181.35,341.43 181.85,340.78 182.35,340.11 182.85,342.25 183.35,341.08 183.85,340.21 184.35,340.37 184.85,337.68 185.35,340.51 185.85,339.68 186.35,339.18 186.85,336.25 187.35,336.32 187.85,338.04 188.35,337.34 188.85,335.96 189.35,334.85 189.85,336.23 190.35,334.96 190.85,332.27 191.35,329.95 191.85,329.28 192.35,328.55 192.85,326.76 193.35,323.79 193.85,319.83 194.35,317.06 194.85,316.67 195.35,312.02 195.85,312.14 196.35,304.49 196.85,306.48 197.35,304.91 197.85,301.51 198.35,295.73 198.85,293.66 199.35,290.96 199.85,295.14 200.35,296.56 200.85,300.32 201.35,302.68 201.85,305.41 202.35,306.96 202.85,315.56 203.35,318.02 203.85,325.18 204.35,331.04 204.85,335.08 205.35,341.10 205.85,344.76 206.35,347.37 206.85,350.16 207.35,353.70 207.85,355.07 207.92,355.46" fill="#000"/><polygon points="153.77,355.46 153.77,352.38 154.08,341.62 155.62,338.54 157.15,335.46 158.69,327.77 159.92,318.54 161.46,312.38 163.00,304.69 164.08,300.08 165.15,298.54 166.38,300.08 167.15,306.23 167.92,312.38 169.15,318.54 170.23,327.77 171.00,335.46 171.77,341.62 172.54,347.77 173.31,352.38 174.08,355.46" fill="#fff"/><polyline points="153.77,355.46 153.77,352.38 154.08,341.62 155.62,338.54 157.15,335.46 158.69,327.77 159.92,318.54 161.46,312.38 163.00,304.69 164.08,300.08 165.15,298.54 166.38,300.08 167.15,306.23 167.92,312.38 169.15,318.54 170.23,327.77 171.00,335.46 171.77,341.62 172.54,347.77 173.31,352.38 174.08,355.46" fill="none" stroke="#aaa" stroke-width="2.0" stroke-linejoin="round" style="mix-blend-mode:multiply"/><polyline points="153.77,355.46 153.77,352.38 154.08,341.62 155.62,338.54 157.15,335.46 158.69,327.77 159.92,318.54 161.46,312.38 163.00,304.69 164.08,300.08 165.15,298.54" fill="none" stroke="#999" stroke-width="3.00" stroke-linejoin="round" style="mix-blend-mode:multiply"/><polyline points="153.77,355.46 153.77,352.69 154.27,342.68 154.77,341.21 155.27,341.03 155.77,338.59 156.27,336.05 156.77,334.40 157.27,336.12 157.77,332.41 158.27,330.31 158.77,328.22 159.27,325.54 159.77,316.29 160.27,317.03 160.77,315.81 161.27,312.53 161.77,307.35 162.27,305.28 162.77,307.08 163.27,302.70 163.77,303.50 164.27,296.30 164.77,299.75 165.27,295.18 165.77,300.54 166.27,301.90 166.77,301.43 167.27,306.01 167.77,308.41 168.27,313.00 168.77,317.51 169.27,321.26 169.77,325.91 170.27,330.25 170.77,333.34 171.27,338.02 171.77,342.03 172.27,343.69 172.77,348.52 173.27,352.53 173.77,354.47 174.08,355.46" fill="none" stroke="#222" stroke-width="1.00" style="mix-blend-mode:multiply"/></g>
<g clip-path="url(#kB22)"><polygon points="246.38,355.46 246.38,355.44 246.88,348.83 247.38,344.71 247.88,339.77 248.38,333.00 248.88,331.52 249.38,328.63 249.88,324.09 250.38,323.18 250.88,322.77 251.38,322.78 251.88,320.75 252.38,321.26 252.88,318.09 253.38,317.34 253.88,319.33 254.38,319.10 254.88,319.26 255.38,320.57 255.88,316.58 256.38,316.81 256.88,319.93 257.38,316.83 257.88,316.35 258.38,314.77 258.88,311.19 259.38,312.19 259.88,311.32 260.38,310.34 260.88,308.20 261.38,306.27 261.88,301.75 262.38,304.41 262.88,299.19 263.38,296.14 263.88,299.15 264.38,296.80 264.88,302.18 265.38,302.68 265.88,305.01 266.38,299.70 266.88,303.68 267.38,304.58 267.88,303.80 268.38,306.22 268.88,306.82 269.38,311.60 269.88,312.74 270.38,315.49 270.88,318.68 271.38,317.91 271.88,324.77 272.38,329.78 272.88,333.03 273.38,336.70 273.88,340.09 274.38,343.95 274.88,349.48 275.38,353.74 275.62,355.46" fill="#000"/><polygon points="225.77,355.46 225.77,350.85 226.85,346.23 228.38,341.62 229.92,335.46 231.46,329.31 233.00,323.15 234.54,317.00 236.08,310.85 237.62,303.15 238.38,298.54 239.62,303.15 240.69,309.31 241.77,315.46 242.69,323.15 243.77,332.38 244.85,340.08 245.77,346.23 246.38,350.85 246.85,355.46" fill="#fff"/><polyline points="225.77,355.46 225.77,350.85 226.85,346.23 228.38,341.62 229.92,335.46 231.46,329.31 233.00,323.15 234.54,317.00 236.08,310.85 237.62,303.15 238.38,298.54 239.62,303.15 240.69,309.31 241.77,315.46 242.69,323.15 243.77,332.38 244.85,340.08 245.77,346.23 246.38,350.85 246.85,355.46" fill="none" stroke="#aaa" stroke-width="2.0" stroke-linejoin="round" style="mix-blend-mode:multiply"/><polyline points="225.77,355.46 225.77,350.85 226.85,346.23 228.38,341.62 229.92,335.46 231.46,329.31 233.00,323.15 234.54,317.00 236.08,310.85 237.62,303.15 238.38,298.54" fill="none" stroke="#999" stroke-width="3.00" stroke-linejoin="round" style="mix-blend-mode:multiply"/><polyline points="225.77,355.46 225.77,349.98 226.27,349.02 226.77,346.19 227.27,344.71 227.77,341.28 228.27,341.49 228.77,337.56 229.27,337.98 229.77,332.58 230.27,332.41 230.77,331.18 231.27,331.11 231.77,328.23 232.27,328.11 232.77,324.51 233.27,322.10 233.77,322.15 234.27,320.18 234.77,317.04 235.27,315.23 235.77,308.58 236.27,311.00 236.77,307.54 237.27,301.38 237.77,298.82 238.27,298.07 238.77,296.48 239.27,298.36 239.77,303.93 240.27,304.43 240.77,306.25 241.27,312.31 241.77,313.11 242.27,318.60 242.77,324.26 243.27,329.34 243.77,333.56 244.27,336.41 244.77,340.17 245.27,343.21 245.77,344.62 246.27,350.93 246.77,355.04 246.85,355.46" fill="none" stroke="#222" stroke-width="1.00" style="mix-blend-mode:multiply"/></g>
<g clip-path="url(#kB23)"><polygon points="312.92,355.46 312.92,355.35 313.42,341.07 313.92,326.34 314.42,319.31 314.92,317.67 315.42,320.04 315.92,314.75 316.42,316.05 316.92,310.73 317.42,311.16 317.92,309.37 318.42,314.08 318.92,315.79 319.42,314.55 319.92,317.60 320.42,319.36 320.92,318.50 321.42,320.15 321.92,324.22 322.42,326.39 322.92,326.06 323.42,329.93 323.92,331.57 324.42,333.35 324.92,334.56 325.42,335.54 325.92,336.30 326.42,337.88 326.92,338.12 327.42,340.21 327.92,339.94 328.42,340.86 328.92,340.65 329.42,342.60 329.92,341.43 330.42,343.88 330.92,342.46 331.42,343.92 331.92,346.43 332.42,348.09 332.92,347.57 333.42,348.16 333.92,347.73 334.42,347.28 334.92,347.82 335.42,348.29 335.92,348.27 336.42,349.15 336.92,349.71 337.42,350.02 337.92,350.31 338.42,351.52 338.92,351.68 339.42,352.31 339.92,353.60 340.42,353.45 340.92,354.99 341.38,355.46" fill="#000"/><polygon points="298.77,355.46 298.77,347.77 299.85,343.15 301.38,338.54 302.92,332.38 304.46,326.23 306.00,320.08 307.54,313.92 309.08,307.77 310.62,301.62 311.38,304.69 312.62,307.77 313.69,313.92 314.46,321.62 315.69,329.31 316.77,335.46 317.85,343.15 318.77,349.31 319.38,355.46" fill="#fff"/><polyline points="298.77,355.46 298.77,347.77 299.85,343.15 301.38,338.54 302.92,332.38 304.46,326.23 306.00,320.08 307.54,313.92 309.08,307.77 310.62,301.62 311.38,304.69 312.62,307.77 313.69,313.92 314.46,321.62 315.69,329.31 316.77,335.46 317.85,343.15 318.77,349.31 319.38,355.46" fill="none" stroke="#aaa" stroke-width="2.0" stroke-linejoin="round" style="mix-blend-mode:multiply"/><polyline points="298.77,355.46 298.77,347.77 299.85,343.15 301.38,338.54 302.92,332.38 304.46,326.23 306.00,320.08 307.54,313.92 309.08,307.77 310.62,301.62" fill="none" stroke="#999" stroke-width="3.00" stroke-linejoin="round" style="mix-blend-mode:multiply"/><polyline points="298.77,355.46 298.77,345.52 299.27,346.70 299.77,345.41 300.27,343.19 300.77,340.15 301.27,337.39 301.77,337.10 302.27,335.88 302.77,330.78 303.27,333.10 303.77,330.65 304.27,323.50 304.77,324.95 305.27,319.50 305.77,317.50 306.27,319.33 306.77,318.62 307.27,316.17 307.77,311.37 308.27,313.10 308.77,309.82 309.27,307.97 309.77,304.78 310.27,303.45 310.77,298.73 311.27,304.50 311.77,306.67 312.27,305.73 312.77,310.75 313.27,313.61 313.77,313.90 314.27,319.75 314.77,323.71 315.27,325.99 315.77,328.70 316.27,332.88 316.77,333.65 317.27,335.53 317.77,341.38 318.27,346.70 318.77,350.04 319.27,353.49 319.38,355.46" fill="none" stroke="#222" stroke-width="1.00" style="mix-blend-mode:multiply"/></g>
<g clip-path="url(#kB24)"><polygon points="389.23,355.46 389.23,355.56 389.73,341.51 390.23,330.31 390.73,325.64 391.23,319.13 391.73,315.57 392.23,311.93 392.73,313.72 393.23,312.72 393.73,311.83 394.23,312.26 394.73,310.14 395.23,306.55 395.73,306.01 396.23,304.50 396.73,304.59 397.23,307.63 397.73,305.83 398.23,302.50 398.73,307.45 399.23,303.79 399.73,303.70 400.23,306.70 400.73,302.58 401.23,306.80 401.73,308.00 402.23,305.00 402.73,309.64 403.23,307.51 403.73,306.84 404.23,304.65 404.73,299.69 405.23,301.80 405.73,301.74 406.23,304.46 406.73,308.55 407.23,306.68 407.73,308.40 408.23,308.62 408.73,306.55 409.23,307.90 409.73,307.79 410.23,307.98 410.73,310.07 411.23,313.69 411.73,320.23 412.23,321.31 412.73,318.23 413.23,323.78 413.73,320.36 414.23,322.67 414.73,324.35 415.23,326.78 415.73,327.49 416.23,332.48 416.73,328.09 417.23,334.04 417.73,333.02 418.23,334.75 418.73,334.13 419.23,335.97 419.73,337.46 420.23,339.34 420.73,338.94 421.23,340.80 421.73,340.54 422.23,342.92 422.73,344.52 423.23,345.96 423.73,347.50 424.23,347.73 424.73,348.74 425.23,349.77 425.73,351.28 426.23,351.70 426.73,353.73 427.23,355.54 427.23,355.46" fill="#000"/><polygon points="370.77,355.46 371.08,344.69 372.62,341.62 374.15,337.00 375.69,332.38 377.23,326.23 378.77,321.62 380.31,313.92 381.85,306.23 383.38,301.62 384.62,293.92 385.23,303.15 386.15,307.77 387.23,315.46 388.31,321.62 389.54,327.77 390.31,335.46 391.08,344.69 391.85,355.46" fill="#fff"/><polyline points="370.77,355.46 371.08,344.69 372.62,341.62 374.15,337.00 375.69,332.38 377.23,326.23 378.77,321.62 380.31,313.92 381.85,306.23 383.38,301.62 384.62,293.92 385.23,303.15 386.15,307.77 387.23,315.46 388.31,321.62 389.54,327.77 390.31,335.46 391.08,344.69 391.85,355.46" fill="none" stroke="#aaa" stroke-width="2.0" stroke-linejoin="round" style="mix-blend-mode:multiply"/><polyline points="370.77,355.46 371.08,344.69 372.62,341.62 374.15,337.00 375.69,332.38 377.23,326.23 378.77,321.62 380.31,313.92 381.85,306.23 383.38,301.62 384.62,293.92" fill="none" stroke="#999" stroke-width="3.00" stroke-linejoin="round" style="mix-blend-mode:multiply"/><polyline points="370.77,355.46 370.77,355.52 371.27,342.62 371.77,341.49 372.27,342.35 372.77,339.35 373.27,337.00 373.77,339.34 374.27,338.03 374.77,334.58 375.27,330.15 375.77,331.26 376.27,332.18 376.77,328.29 377.27,326.48 377.77,324.88 378.27,322.55 378.77,318.12 379.27,315.62 379.77,314.03 380.27,314.03 380.77,313.72 381.27,308.20 381.77,308.72 382.27,307.06 382.77,304.82 383.27,300.59 383.77,300.09 384.27,292.59 384.77,295.81 385.27,303.96 385.77,307.29 386.27,305.15 386.77,311.94 387.27,317.78 387.77,315.04 388.27,321.56 388.77,323.07 389.27,328.19 389.77,329.45 390.27,335.36 390.77,341.71 391.27,348.08 391.77,354.22 391.85,355.46" fill="none" stroke="#222" stroke-width="1.00" style="mix-blend-mode:multiply"/></g>
<g clip-path="url(#kB25)"><polygon points="462.31,355.46 462.31,355.27 462.81,335.73 463.31,335.37 463.81,335.95 464.31,330.83 464.81,333.57 465.31,331.43 465.81,327.32 466.31,325.92 466.81,323.25 467.31,323.17 467.81,320.92 468.31,321.26 468.81,320.59 469.31,321.29 469.81,317.16 470.31,316.51 470.81,314.90 471.31,310.43 471.81,313.07 472.31,311.13 472.81,311.80 473.31,306.36 473.81,306.62 474.31,306.31 474.81,301.13 475.31,300.11 475.81,300.61 476.31,303.52 476.81,305.64 477.31,310.52 477.81,317.31 478.31,320.06 478.81,320.71 479.31,325.43 479.81,327.85 480.31,334.26 480.81,337.07 481.31,339.49 481.81,341.84 482.31,345.83 482.81,349.62 483.31,351.76 483.81,355.04 483.85,355.46" fill="#000"/><polygon points="444.31,355.46 444.62,344.69 446.15,341.62 447.69,337.00 449.23,332.38 450.77,324.69 452.31,318.54 453.85,310.85 455.38,303.15 456.62,293.92 457.69,301.62 458.77,307.77 459.69,315.46 460.77,323.15 461.85,329.31 462.77,332.38 463.38,338.54 463.85,346.23 464.31,355.46" fill="#fff"/><polyline points="444.31,355.46 444.62,344.69 446.15,341.62 447.69,337.00 449.23,332.38 450.77,324.69 452.31,318.54 453.85,310.85 455.38,303.15 456.62,293.92 457.69,301.62 458.77,307.77 459.69,315.46 460.77,323.15 461.85,329.31 462.77,332.38 463.38,338.54 463.85,346.23 464.31,355.46" fill="none" stroke="#aaa" stroke-width="2.0" stroke-linejoin="round" style="mix-blend-mode:multiply"/><polyline points="444.31,355.46 444.62,344.69 446.15,341.62 447.69,337.00 449.23,332.38 450.77,324.69 452.31,318.54 453.85,310.85 455.38,303.15 456.62,293.92" fill="none" stroke="#999" stroke-width="3.00" stroke-linejoin="round" style="mix-blend-mode:multiply"/><polyline points="444.31,355.46 444.31,355.52 444.81,340.87 445.31,343.54 445.81,342.43 446.31,342.64 446.81,336.15 447.31,337.05 447.81,337.85 448.31,333.49 448.81,330.15 449.31,332.59 449.81,329.74 450.31,324.63 450.81,325.55 451.31,319.26 451.81,321.96 452.31,319.57 452.81,313.69 453.31,310.04 453.81,313.14 454.31,305.89 454.81,303.27 455.31,302.28 455.81,300.72 456.31,293.15 456.81,296.99 457.31,295.40 457.81,302.13 458.31,304.62 458.81,309.09 459.31,308.76 459.81,316.33 460.31,321.96 460.81,323.59 461.31,325.66 461.81,325.59 462.31,332.26 462.81,332.32 463.31,338.17 463.81,345.18 464.31,355.77 464.31,355.46" fill="none" stroke="#222" stroke-width="1.00" style="mix-blend-mode:multiply"/></g>
<g clip-path="url(#kB30)"><polygon points="99.23,432.46 99.23,432.21 99.73,429.62 100.23,425.66 100.73,425.65 101.23,422.51 101.73,422.30 102.23,418.96 102.73,416.97 103.23,415.66 103.73,414.20 104.23,409.77 104.73,409.68 105.23,407.11 105.73,406.69 106.23,404.95 106.73,401.89 107.23,398.78 107.73,396.59 108.23,396.31 108.73,390.59 109.23,392.43 109.73,389.25 110.23,387.94 110.73,385.83 111.23,384.83 111.73,383.84 112.23,381.31 112.73,380.34 113.23,378.95 113.73,379.10 114.23,379.77 114.73,380.45 115.23,381.81 115.73,383.40 116.23,382.81 116.73,387.66 117.23,392.70 117.73,394.60 118.23,401.00 118.73,403.39 119.23,407.97 119.73,410.43 120.23,413.53 120.73,417.01 121.23,420.19 121.73,420.64 122.23,424.35 122.73,426.78 123.23,428.08 123.73,430.19 124.23,431.93 124.46,432.46" fill="#000"/><polygon points="80.77,432.46 80.77,407.85 81.38,401.69 82.62,404.77 83.85,392.46 84.92,383.23 86.46,384.77 87.54,377.08 88.77,375.54 90.00,377.08 91.08,384.77 92.15,390.92 93.08,395.54 94.15,403.23 95.23,409.38 96.46,415.54 97.69,421.69 98.77,426.31 99.85,430.92 100.77,432.46" fill="#fff"/><polyline points="80.77,432.46 80.77,407.85 81.38,401.69 82.62,404.77 83.85,392.46 84.92,383.23 86.46,384.77 87.54,377.08 88.77,375.54 90.00,377.08 91.08,384.77 92.15,390.92 93.08,395.54 94.15,403.23 95.23,409.38 96.46,415.54 97.69,421.69 98.77,426.31 99.85,430.92 100.77,432.46" fill="none" stroke="#aaa" stroke-width="2.0" stroke-linejoin="round" style="mix-blend-mode:multiply"/><polyline points="80.77,432.46 80.77,407.85 81.38,401.69 82.62,404.77 83.85,392.46 84.92,383.23 86.46,384.77 87.54,377.08 88.77,375.54" fill="none" stroke="#999" stroke-width="3.00" stroke-linejoin="round" style="mix-blend-mode:multiply"/><polyline points="80.77,432.46 80.77,406.38 81.27,401.35 81.77,403.17 82.27,405.51 82.77,400.34 83.27,400.00 83.77,393.81 84.27,386.51 84.77,385.23 85.27,385.68 85.77,385.95 86.27,386.03 86.77,383.89 87.27,378.84 87.77,376.69 88.27,376.17 88.77,372.04 89.27,374.31 89.77,378.89 90.27,380.59 90.77,384.67 91.27,387.97 91.77,385.23 92.27,392.69 92.77,395.71 93.27,393.67 93.77,402.58 94.27,403.35 94.77,403.25 95.27,411.68 95.77,410.94 96.27,416.02 96.77,418.52 97.27,417.77 97.77,422.26 98.27,424.58 98.77,426.92 99.27,427.36 99.77,431.18 100.27,431.02 100.77,432.48 100.77,432.46" fill="none" stroke="#222" stroke-width="1.00" style="mix-blend-mode:multiply"/></g>
<g clip-path="url(#kB31)"><polygon points="173.77,432.46 173.77,432.25 174.27,432.18 174.77,431.34 175.27,431.26 175.77,430.69 176.27,429.56 176.77,429.10 177.27,428.03 177.77,427.94 178.27,427.08 178.77,425.86 179.27,425.43 179.77,424.59 180.27,421.82 180.77,423.02 181.27,422.05 181.77,421.44 182.27,420.01 182.77,419.12 183.27,417.76 183.77,416.91 184.27,416.26 184.77,413.28 185.27,410.98 185.77,407.94 186.27,408.14 186.77,403.85 187.27,404.31 187.77,397.68 188.27,399.37 188.77,395.68 189.27,393.58 189.77,393.49 190.27,388.80 190.77,387.18 191.27,385.41 191.77,386.78 192.27,384.23 192.77,382.67 193.27,382.06 193.77,376.70 194.27,374.63 194.77,375.44 195.27,374.86 195.77,378.76 196.27,381.33 196.77,384.32 197.27,387.47 197.77,391.39 198.27,398.08 198.77,398.86 199.27,399.91 199.77,405.72 200.27,407.36 200.77,412.88 201.27,414.36 201.77,418.20 202.27,420.21 202.77,423.77 203.27,425.21 203.77,427.18 204.27,428.26 204.77,429.37 205.27,430.18 205.77,430.77 206.27,431.87 206.77,431.29 207.15,432.46" fill="#000"/><polygon points="153.31,432.46 153.31,418.62 154.08,415.54 155.62,409.38 157.15,403.23 158.38,397.08 159.46,390.92 160.54,384.77 161.46,375.54 162.08,378.62 163.00,387.85 164.08,394.00 165.15,397.08 166.08,403.23 167.15,410.92 168.23,418.62 169.46,426.31 170.69,430.15 172.23,431.69 174.08,432.46" fill="#fff"/><polyline points="153.31,432.46 153.31,418.62 154.08,415.54 155.62,409.38 157.15,403.23 158.38,397.08 159.46,390.92 160.54,384.77 161.46,375.54 162.08,378.62 163.00,387.85 164.08,394.00 165.15,397.08 166.08,403.23 167.15,410.92 168.23,418.62 169.46,426.31 170.69,430.15 172.23,431.69 174.08,432.46" fill="none" stroke="#aaa" stroke-width="2.0" stroke-linejoin="round" style="mix-blend-mode:multiply"/><polyline points="153.31,432.46 153.31,418.62 154.08,415.54 155.62,409.38 157.15,403.23 158.38,397.08 159.46,390.92 160.54,384.77 161.46,375.54" fill="none" stroke="#999" stroke-width="3.00" stroke-linejoin="round" style="mix-blend-mode:multiply"/><polyline points="153.31,432.46 153.31,418.75 153.81,415.90 154.31,411.71 154.81,412.55 155.31,412.00 155.81,409.18 156.31,403.12 156.81,403.43 157.31,400.80 157.81,401.06 158.31,396.44 158.81,396.76 159.31,390.42 159.81,391.05 160.31,382.59 160.81,381.36 161.31,379.18 161.81,373.77 162.31,377.42 162.81,386.12 163.31,391.70 163.81,392.31 164.31,393.52 164.81,395.99 165.31,400.20 165.81,400.27 166.31,403.98 166.81,407.15 167.31,412.76 167.81,412.52 168.31,418.19 168.81,419.88 169.31,426.50 169.81,427.78 170.31,430.20 170.81,430.62 171.31,430.31 171.81,431.37 172.31,431.59 172.81,431.21 173.31,432.35 173.81,431.85 174.08,432.46" fill="none" stroke="#222" stroke-width="1.00" style="mix-blend-mode:multiply"/></g>
<g clip-path="url(#kB32)"><polygon points="243.46,432.46 243.46,432.31 243.96,428.96 244.46,424.99 244.96,422.47 245.46,420.95 245.96,421.47 246.46,417.18 246.96,418.21 247.46,416.26 247.96,414.79 248.46,412.72 248.96,412.16 249.46,410.70 249.96,405.40 250.46,407.73 250.96,407.17 251.46,404.59 251.96,402.75 252.46,400.59 252.96,398.14 253.46,395.88 253.96,397.04 254.46,399.30 254.96,397.84 255.46,393.21 255.96,394.40 256.46,391.78 256.96,392.70 257.46,389.17 257.96,388.89 258.46,383.39 258.96,380.10 259.46,377.87 259.96,371.79 260.46,372.68 260.96,378.38 261.46,377.00 261.96,380.87 262.46,379.80 262.96,381.49 263.46,383.41 263.96,389.50 264.46,390.68 264.96,394.83 265.46,398.27 265.96,405.31 266.46,409.75 266.96,415.66 267.46,418.44 267.96,420.10 268.46,423.97 268.96,426.84 269.46,428.93 269.92,432.46" fill="#000"/><polygon points="225.77,432.46 225.77,415.54 226.38,403.23 227.62,400.15 228.85,390.92 229.92,383.23 231.46,386.31 232.54,378.62 233.46,375.54 234.54,378.62 235.31,384.77 236.54,389.38 237.62,394.00 238.38,398.62 239.62,404.77 240.69,410.92 241.77,415.54 242.69,420.15 243.77,424.77 244.85,429.38 245.77,432.46" fill="#fff"/><polyline points="225.77,432.46 225.77,415.54 226.38,403.23 227.62,400.15 228.85,390.92 229.92,383.23 231.46,386.31 232.54,378.62 233.46,375.54 234.54,378.62 235.31,384.77 236.54,389.38 237.62,394.00 238.38,398.62 239.62,404.77 240.69,410.92 241.77,415.54 242.69,420.15 243.77,424.77 244.85,429.38 245.77,432.46" fill="none" stroke="#aaa" stroke-width="2.0" stroke-linejoin="round" style="mix-blend-mode:multiply"/><polyline points="225.77,432.46 225.77,415.54 226.38,403.23 227.62,400.15 228.85,390.92 229.92,383.23 231.46,386.31 232.54,378.62 233.46,375.54" fill="none" stroke="#999" stroke-width="3.00" stroke-linejoin="round" style="mix-blend-mode:multiply"/><polyline points="225.77,432.46 225.77,415.86 226.27,403.97 226.77,403.90 227.27,397.52 227.77,401.10 228.27,397.35 228.77,392.69 229.27,384.40 229.77,380.97 230.27,381.24 230.77,384.14 231.27,385.94 231.77,384.55 232.27,381.57 232.77,377.37 233.27,377.13 233.77,376.87 234.27,378.42 234.77,381.20 235.27,383.56 235.77,385.26 236.27,388.46 236.77,391.44 237.27,392.47 237.77,394.58 238.27,398.74 238.77,397.08 239.27,404.85 239.77,406.79 240.27,408.78 240.77,413.35 241.27,413.46 241.77,415.83 242.27,414.57 242.77,421.37 243.27,420.36 243.77,423.99 244.27,426.30 244.77,428.36 245.27,431.43 245.77,432.50 245.77,432.46" fill="none" stroke="#222" stroke-width="1.00" style="mix-blend-mode:multiply"/></g>
<g clip-path="url(#kB33)"><polygon points="302.92,432.46 302.92,386.87 303.42,379.60 303.92,381.43 304.42,377.36 304.92,374.60 305.42,379.37 305.92,378.24 306.42,380.37 306.92,375.44 307.42,381.52 307.92,382.08 308.42,379.82 308.92,384.86 309.42,384.30 309.92,386.95 310.42,386.96 310.92,384.56 311.42,386.64 311.92,385.19 312.42,382.24 312.92,380.82 313.42,383.35 313.92,383.81 314.42,381.27 314.92,381.41 315.42,384.18 315.92,386.64 316.42,386.04 316.92,383.87 317.42,385.70 317.92,384.81 318.42,381.49 318.92,379.41 319.42,380.31 319.92,381.79 320.42,381.76 320.92,387.84 321.42,387.41 321.92,390.54 322.42,390.55 322.92,392.61 323.42,392.02 323.92,393.81 324.42,389.56 324.92,394.17 325.42,394.31 325.92,396.23 326.42,392.91 326.92,394.95 327.42,393.41 327.92,394.74 328.42,397.07 328.92,398.74 329.42,405.72 329.92,406.84 330.42,412.45 330.92,413.79 331.42,414.66 331.92,417.92 332.42,417.74 332.92,421.62 333.42,422.48 333.92,425.09 334.42,425.66 334.92,427.33 335.42,428.33 335.92,429.22 336.42,429.81 336.92,429.85 337.42,431.11 337.92,431.74 338.31,432.46" fill="#000"/><polygon points="298.77,432.46 298.77,409.38 299.38,403.23 300.62,397.08 301.85,387.85 302.92,383.23 304.46,380.15 305.54,377.08 306.77,380.15 308.00,383.23 309.08,384.77 310.15,390.92 311.08,397.08 312.15,403.23 313.23,409.38 314.46,415.54 315.69,421.69 316.77,426.31 317.85,430.92 318.77,432.46" fill="#fff"/><polyline points="298.77,432.46 298.77,409.38 299.38,403.23 300.62,397.08 301.85,387.85 302.92,383.23 304.46,380.15 305.54,377.08 306.77,380.15 308.00,383.23 309.08,384.77 310.15,390.92 311.08,397.08 312.15,403.23 313.23,409.38 314.46,415.54 315.69,421.69 316.77,426.31 317.85,430.92 318.77,432.46" fill="none" stroke="#aaa" stroke-width="2.0" stroke-linejoin="round" style="mix-blend-mode:multiply"/><polyline points="298.77,432.46 298.77,409.38 299.38,403.23 300.62,397.08 301.85,387.85 302.92,383.23 304.46,380.15 305.54,377.08" fill="none" stroke="#999" stroke-width="3.00" stroke-linejoin="round" style="mix-blend-mode:multiply"/><polyline points="298.77,432.46 298.77,409.20 299.27,403.67 299.77,400.62 300.27,395.51 300.77,394.48 301.27,392.26 301.77,390.52 302.27,386.63 302.77,384.65 303.27,382.62 303.77,379.43 304.27,381.96 304.77,377.90 305.27,377.68 305.77,376.26 306.27,377.46 306.77,376.65 307.27,377.90 307.77,382.27 308.27,381.29 308.77,381.03 309.27,385.62 309.77,385.23 310.27,388.19 310.77,396.61 311.27,400.28 311.77,399.54 312.27,402.54 312.77,407.28 313.27,408.79 313.77,411.55 314.27,413.52 314.77,417.31 315.27,416.08 315.77,423.16 316.27,420.68 316.77,426.07 317.27,425.94 317.77,430.67 318.27,431.80 318.77,432.28 318.77,432.46" fill="none" stroke="#222" stroke-width="1.00" style="mix-blend-mode:multiply"/></g>
<g clip-path="url(#kB34)"><polygon points="387.69,432.46 387.69,432.18 388.19,411.89 388.69,409.71 389.19,409.75 389.69,405.36 390.19,404.07 390.69,398.44 391.19,399.05 391.69,398.27 392.19,401.74 392.69,400.00 393.19,400.18 393.69,403.70 394.19,400.47 394.69,399.37 395.19,398.03 395.69,402.09 396.19,402.38 396.69,402.06 397.19,399.84 397.69,395.73 398.19,396.90 398.69,397.46 399.19,397.16 399.69,396.16 400.19,393.46 400.69,389.31 401.19,387.40 401.69,389.16 402.19,389.62 402.69,387.34 403.19,389.39 403.69,388.59 404.19,384.75 404.69,382.96 405.19,384.66 405.69,388.43 406.19,387.39 406.69,381.33 407.19,374.02 407.69,380.03 408.19,377.94 408.69,379.63 409.19,384.01 409.69,385.06 410.19,387.36 410.69,388.51 411.19,386.93 411.69,385.94 412.19,385.73 412.69,389.90 413.19,390.70 413.69,393.05 414.19,397.89 414.69,396.81 415.19,401.48 415.69,401.29 416.19,402.89 416.69,403.85 417.19,406.38 417.69,408.04 418.19,411.60 418.69,410.06 419.19,413.75 419.69,412.37 420.19,413.67 420.69,415.53 421.19,413.85 421.69,418.47 422.19,418.90 422.69,420.44 423.19,422.07 423.69,422.82 424.19,425.05 424.69,426.30 425.19,427.47 425.69,428.08 426.19,429.81 426.46,432.46" fill="#000"/><polygon points="370.77,432.46 371.08,423.23 371.85,421.69 372.62,417.08 374.15,414.00 375.38,407.85 376.46,403.23 378.00,398.62 379.08,390.92 380.31,386.31 381.54,381.69 382.15,387.85 383.38,392.46 384.62,397.08 385.69,401.69 386.46,406.31 387.69,412.46 388.77,420.15 389.85,427.85 390.77,432.46" fill="#fff"/><polyline points="370.77,432.46 371.08,423.23 371.85,421.69 372.62,417.08 374.15,414.00 375.38,407.85 376.46,403.23 378.00,398.62 379.08,390.92 380.31,386.31 381.54,381.69 382.15,387.85 383.38,392.46 384.62,397.08 385.69,401.69 386.46,406.31 387.69,412.46 388.77,420.15 389.85,427.85 390.77,432.46" fill="none" stroke="#aaa" stroke-width="2.0" stroke-linejoin="round" style="mix-blend-mode:multiply"/><polyline points="370.77,432.46 371.08,423.23 371.85,421.69 372.62,417.08 374.15,414.00 375.38,407.85 376.46,403.23 378.00,398.62 379.08,390.92 380.31,386.31 381.54,381.69" fill="none" stroke="#999" stroke-width="3.00" stroke-linejoin="round" style="mix-blend-mode:multiply"/><polyline points="370.77,432.46 370.77,432.29 371.27,421.40 371.77,421.21 372.27,418.90 372.77,414.64 373.27,417.07 373.77,414.52 374.27,411.49 374.77,408.31 375.27,407.10 375.77,406.72 376.27,401.67 376.77,400.91 377.27,402.91 377.77,400.25 378.27,398.79 378.77,393.22 379.27,391.03 379.77,389.14 380.27,384.81 380.77,382.92 381.27,380.82 381.77,380.50 382.27,388.92 382.77,390.44 383.27,393.53 383.77,390.40 384.27,392.28 384.77,396.58 385.27,398.05 385.77,402.55 386.27,407.25 386.77,407.27 387.27,411.48 387.77,410.24 388.27,415.67 388.77,420.75 389.27,423.77 389.77,426.55 390.27,430.04 390.77,432.68 390.77,432.46" fill="none" stroke="#222" stroke-width="1.00" style="mix-blend-mode:multiply"/></g>
<g clip-path="url(#kB35)"><polygon points="462.77,432.46 462.77,432.48 463.27,427.40 463.77,421.97 464.27,420.11 464.77,416.98 465.27,414.97 465.77,414.12 466.27,412.89 466.77,411.94 467.27,408.40 467.77,406.41 468.27,403.47 468.77,401.22 469.27,399.30 469.77,394.34 470.27,395.25 470.77,389.70 471.27,387.17 471.77,387.85 472.27,386.79 472.77,383.80 473.27,382.46 473.77,382.21 474.27,379.93 474.77,380.13 475.27,376.98 475.77,378.65 476.27,379.51 476.77,382.91 477.27,381.59 477.77,390.99 478.27,391.96 478.77,397.44 479.27,400.39 479.77,405.31 480.27,406.81 480.77,410.80 481.27,415.79 481.77,417.25 482.27,420.89 482.77,424.08 483.27,425.51 483.77,427.76 484.27,428.52 484.77,430.92 485.27,432.44 485.38,432.46" fill="#000"/><polygon points="444.62,432.46 445.38,421.69 446.46,417.08 447.69,412.46 449.23,407.85 450.46,401.69 451.54,394.00 452.62,387.85 453.85,384.77 454.62,375.54 455.38,384.77 456.62,390.92 457.69,395.54 458.46,398.62 459.69,404.77 460.77,412.46 461.85,418.62 462.77,423.23 463.38,427.85 463.85,432.46" fill="#fff"/><polyline points="444.62,432.46 445.38,421.69 446.46,417.08 447.69,412.46 449.23,407.85 450.46,401.69 451.54,394.00 452.62,387.85 453.85,384.77 454.62,375.54 455.38,384.77 456.62,390.92 457.69,395.54 458.46,398.62 459.69,404.77 460.77,412.46 461.85,418.62 462.77,423.23 463.38,427.85 463.85,432.46" fill="none" stroke="#aaa" stroke-width="2.0" stroke-linejoin="round" style="mix-blend-mode:multiply"/><polyline points="444.62,432.46 445.38,421.69 446.46,417.08 447.69,412.46 449.23,407.85 450.46,401.69 451.54,394.00 452.62,387.85 453.85,384.77 454.62,375.54" fill="none" stroke="#999" stroke-width="3.00" stroke-linejoin="round" style="mix-blend-mode:multiply"/><polyline points="444.62,432.46 444.62,431.95 445.12,424.04 445.62,418.16 446.12,417.36 446.62,415.21 447.12,413.98 447.62,414.85 448.12,408.33 448.62,411.21 449.12,409.66 449.62,408.02 450.12,403.89 450.62,398.66 451.12,397.52 451.62,392.19 452.12,391.44 452.62,389.46 453.12,387.37 453.62,386.10 454.12,379.32 454.62,377.64 455.12,378.04 455.62,386.57 456.12,387.12 456.62,387.42 457.12,393.06 457.62,393.85 458.12,396.64 458.62,397.47 459.12,401.78 459.62,402.68 460.12,405.85 460.62,413.46 461.12,415.55 461.62,418.09 462.12,420.76 462.62,419.51 463.12,427.07 463.62,429.34 463.85,432.46" fill="none" stroke="#222" stroke-width="1.00" style="mix-blend-mode:multiply"/></g>
<g clip-path="url(#kC10)"><polygon points="96.15,578.46 96.15,578.76 96.65,571.15 97.15,566.04 97.65,561.82 98.15,554.88 98.65,554.76 99.15,545.89 99.65,542.91 100.15,544.25 100.65,539.60 101.15,538.33 101.65,531.39 102.15,528.23 102.65,526.28 103.15,527.04 103.65,522.65 104.15,521.45 104.65,523.38 105.15,517.17 105.65,520.05 106.15,524.17 106.65,524.81 107.15,527.32 107.65,526.07 108.15,522.42 108.65,526.35 109.15,534.79 109.65,535.23 110.15,540.12 110.65,541.28 111.15,542.76 111.65,549.33 112.15,550.69 112.65,554.05 113.15,555.10 113.65,557.80 114.15,559.32 114.65,559.52 115.15,564.16 115.65,565.74 116.15,567.95 116.65,569.96 117.15,570.35 117.65,572.97 118.15,574.08 118.65,575.65 119.15,577.07 119.65,578.09 119.85,578.46" fill="#000"/><polygon points="80.77,578.46 81.38,564.62 82.62,556.92 84.15,550.77 85.69,544.62 86.92,538.46 88.00,533.85 89.08,527.69 90.31,521.54 91.08,527.69 92.15,530.77 93.08,532.31 94.15,538.46 94.92,544.62 95.69,550.77 96.46,556.92 97.23,564.62 98.00,572.31 98.77,578.46" fill="#fff"/><polyline points="80.77,578.46 81.38,564.62 82.62,556.92 84.15,550.77 85.69,544.62 86.92,538.46 88.00,533.85 89.08,527.69 90.31,521.54 91.08,527.69 92.15,530.77 93.08,532.31 94.15,538.46 94.92,544.62 95.69,550.77 96.46,556.92 97.23,564.62 98.00,572.31 98.77,578.46" fill="none" stroke="#aaa" stroke-width="2.0" stroke-linejoin="round" style="mix-blend-mode:multiply"/><polyline points="80.77,578.46 81.38,564.62 82.62,556.92 84.15,550.77 85.69,544.62 86.92,538.46 88.00,533.85 89.08,527.69 90.31,521.54" fill="none" stroke="#999" stroke-width="3.00" stroke-linejoin="round" style="mix-blend-mode:multiply"/><polyline points="80.77,578.46 80.77,578.63 81.27,568.07 81.77,560.47 82.27,555.94 82.77,557.06 83.27,552.22 83.77,551.39 84.27,548.77 84.77,547.04 85.27,543.32 85.77,540.73 86.27,543.48 86.77,540.42 87.27,536.61 87.77,535.20 88.27,532.98 88.77,526.85 89.27,524.88 89.77,522.94 90.27,523.76 90.77,525.45 91.27,528.34 91.77,531.41 92.27,527.46 92.77,533.32 93.27,534.08 93.77,535.54 94.27,535.88 94.77,545.20 95.27,549.48 95.77,553.34 96.27,551.88 96.77,560.26 97.27,565.49 97.77,568.73 98.27,574.31 98.77,577.89 98.77,578.46" fill="none" stroke="#222" stroke-width="1.00" style="mix-blend-mode:multiply"/></g>
<g clip-path="url(#kC11)"><polygon points="172.85,578.46 172.85,578.73 173.35,572.47 173.85,568.22 174.35,567.06 174.85,562.73 175.35,560.47 175.85,560.00 176.35,556.22 176.85,555.57 177.35,550.44 177.85,545.94 178.35,540.24 178.85,537.89 179.35,537.65 179.85,534.59 180.35,533.53 180.85,530.34 181.35,521.42 181.85,518.68 182.35,522.20 182.85,519.38 183.35,527.19 183.85,530.75 184.35,530.81 184.85,532.79 185.35,533.54 185.85,532.70 186.35,537.55 186.85,540.17 187.35,537.03 187.85,539.69 188.35,546.77 188.85,550.86 189.35,552.69 189.85,554.84 190.35,556.85 190.85,561.85 191.35,562.69 191.85,564.88 192.35,567.17 192.85,568.32 193.35,569.81 193.85,571.43 194.35,571.28 194.85,572.96 195.35,573.94 195.85,576.06 196.35,576.21 196.85,577.36 197.35,577.99 197.85,578.49 197.92,578.46" fill="#000"/><polygon points="153.77,578.46 154.38,567.69 155.62,561.54 157.15,555.38 158.69,550.77 160.23,547.69 161.77,544.62 163.00,538.46 164.08,532.31 165.15,524.62 166.08,527.69 167.15,533.85 167.92,540.00 169.15,546.15 170.23,552.31 171.31,560.00 172.23,566.15 173.31,572.31 174.08,578.46" fill="#fff"/><polyline points="153.77,578.46 154.38,567.69 155.62,561.54 157.15,555.38 158.69,550.77 160.23,547.69 161.77,544.62 163.00,538.46 164.08,532.31 165.15,524.62 166.08,527.69 167.15,533.85 167.92,540.00 169.15,546.15 170.23,552.31 171.31,560.00 172.23,566.15 173.31,572.31 174.08,578.46" fill="none" stroke="#aaa" stroke-width="2.0" stroke-linejoin="round" style="mix-blend-mode:multiply"/><polyline points="153.77,578.46 154.38,567.69 155.62,561.54 157.15,555.38 158.69,550.77 160.23,547.69 161.77,544.62 163.00,538.46 164.08,532.31 165.15,524.62" fill="none" stroke="#999" stroke-width="3.00" stroke-linejoin="round" style="mix-blend-mode:multiply"/><polyline points="153.77,578.46 153.77,578.99 154.27,570.93 154.77,564.62 155.27,562.16 155.77,562.72 156.27,560.23 156.77,553.47 157.27,555.16 157.77,553.28 158.27,554.09 158.77,551.85 159.27,549.47 159.77,545.12 160.27,548.77 160.77,548.72 161.27,542.92 161.77,545.28 162.27,541.61 162.77,539.76 163.27,535.41 163.77,534.29 164.27,532.46 164.77,529.34 165.27,522.63 165.77,525.08 166.27,530.15 166.77,528.15 167.27,536.87 167.77,536.92 168.27,543.83 168.77,540.73 169.27,543.31 169.77,549.68 170.27,551.20 170.77,557.87 171.27,559.53 171.77,561.85 172.27,567.13 172.77,567.54 173.27,572.27 173.77,575.82 174.08,578.46" fill="none" stroke="#222" stroke-width="1.00" style="mix-blend-mode:multiply"/></g>
<g clip-path="url(#kC12)"><polygon points="241.15,578.46 241.15,578.42 241.65,561.79 242.15,557.99 242.65,554.24 243.15,550.31 243.65,546.57 244.15,541.59 244.65,540.69 245.15,534.14 245.65,531.19 246.15,526.06 246.65,523.64 247.15,522.30 247.65,523.36 248.15,530.09 248.65,534.13 249.15,535.56 249.65,545.54 250.15,548.91 250.65,554.25 251.15,554.78 251.65,559.48 252.15,562.25 252.65,565.79 253.15,568.95 253.65,570.78 254.15,572.34 254.65,572.57 255.15,576.58 255.65,578.27 255.77,578.46" fill="#000"/><polygon points="225.77,578.46 226.38,564.62 227.62,558.46 229.15,552.31 230.69,546.15 232.23,540.00 233.77,532.31 235.31,524.62 236.08,530.77 237.62,533.85 238.69,540.00 239.62,546.15 240.69,552.31 241.46,558.46 242.69,566.15 243.77,573.85 244.54,578.46" fill="#fff"/><polyline points="225.77,578.46 226.38,564.62 227.62,558.46 229.15,552.31 230.69,546.15 232.23,540.00 233.77,532.31 235.31,524.62 236.08,530.77 237.62,533.85 238.69,540.00 239.62,546.15 240.69,552.31 241.46,558.46 242.69,566.15 243.77,573.85 244.54,578.46" fill="none" stroke="#aaa" stroke-width="2.0" stroke-linejoin="round" style="mix-blend-mode:multiply"/><polyline points="225.77,578.46 226.38,564.62 227.62,558.46 229.15,552.31 230.69,546.15 232.23,540.00 233.77,532.31 235.31,524.62" fill="none" stroke="#999" stroke-width="3.00" stroke-linejoin="round" style="mix-blend-mode:multiply"/><polyline points="225.77,578.46 225.77,578.38 226.27,566.11 226.77,562.46 227.27,561.30 227.77,559.09 228.27,557.95 228.77,555.95 229.27,549.42 229.77,551.61 230.27,545.64 230.77,547.95 231.27,544.07 231.77,541.68 232.27,540.71 232.77,537.35 233.27,536.57 233.77,534.41 234.27,529.76 234.77,527.11 235.27,526.61 235.77,527.73 236.27,533.25 236.77,534.25 237.27,530.97 237.77,534.83 238.27,534.08 238.77,542.61 239.27,545.35 239.77,546.80 240.27,550.08 240.77,553.44 241.27,554.04 241.77,558.18 242.27,564.61 242.77,567.83 243.27,571.48 243.77,573.78 244.27,576.71 244.54,578.46" fill="none" stroke="#222" stroke-width="1.00" style="mix-blend-mode:multiply"/></g>
<g clip-path="url(#kC13)"><polygon points="300.31,578.46 300.31,564.04 300.81,560.97 301.31,558.11 301.81,554.52 302.31,555.52 302.81,550.21 303.31,550.22 303.81,546.49 304.31,544.55 304.81,542.15 305.31,538.20 305.81,535.73 306.31,534.37 306.81,533.76 307.31,532.36 307.81,530.71 308.31,527.40 308.81,524.36 309.31,521.72 309.81,520.14 310.31,524.14 310.81,525.05 311.31,530.37 311.81,533.39 312.31,536.95 312.81,538.13 313.31,542.58 313.81,545.81 314.31,553.48 314.81,554.93 315.31,560.03 315.81,564.67 316.31,565.56 316.81,569.50 317.31,570.13 317.81,572.36 318.31,573.81 318.81,574.97 319.31,576.13 319.81,576.70 320.31,576.76 320.81,577.07 321.31,577.61 321.81,578.46 322.15,578.46" fill="#000"/><polygon points="302.15,578.46 302.15,566.15 303.69,558.46 305.23,552.31 306.77,544.62 308.31,536.92 309.54,530.77 310.62,535.38 311.38,540.00 312.15,546.15 312.92,553.85 313.69,560.00 314.46,566.15 315.38,570.77 316.31,573.85 317.54,576.15 319.08,577.69 320.62,578.46" fill="#fff"/><polyline points="302.15,578.46 302.15,566.15 303.69,558.46 305.23,552.31 306.77,544.62 308.31,536.92 309.54,530.77 310.62,535.38 311.38,540.00 312.15,546.15 312.92,553.85 313.69,560.00 314.46,566.15 315.38,570.77 316.31,573.85 317.54,576.15 319.08,577.69 320.62,578.46" fill="none" stroke="#aaa" stroke-width="2.0" stroke-linejoin="round" style="mix-blend-mode:multiply"/><polyline points="302.15,578.46 302.15,566.15 303.69,558.46 305.23,552.31 306.77,544.62 308.31,536.92 309.54,530.77" fill="none" stroke="#999" stroke-width="3.00" stroke-linejoin="round" style="mix-blend-mode:multiply"/><polyline points="302.15,578.46 302.15,566.71 302.65,561.84 303.15,559.74 303.65,559.39 304.15,554.28 304.65,551.12 305.15,550.78 305.65,551.00 306.15,547.78 306.65,541.69 307.15,544.79 307.65,539.73 308.15,536.26 308.65,531.69 309.15,534.26 309.65,527.76 310.15,535.51 310.65,535.37 311.15,538.67 311.65,539.41 312.15,547.92 312.65,550.89 313.15,556.37 313.65,559.07 314.15,563.70 314.65,567.99 315.15,569.63 315.65,572.36 316.15,574.03 316.65,573.22 317.15,575.67 317.65,575.53 318.15,576.81 318.65,576.87 319.15,577.86 319.65,578.31 320.15,578.22 320.62,578.46" fill="none" stroke="#222" stroke-width="1.00" style="mix-blend-mode:multiply"/></g>
<g clip-path="url(#kC14)"><polygon points="387.69,578.46 387.69,578.59 388.19,556.11 388.69,548.43 389.19,547.65 389.69,541.81 390.19,540.40 390.69,536.42 391.19,537.21 391.69,532.42 392.19,528.96 392.69,531.32 393.19,525.95 393.69,528.51 394.19,529.74 394.69,524.67 395.19,523.71 395.69,525.94 396.19,525.28 396.69,527.37 397.19,524.25 397.69,530.14 398.19,532.22 398.69,531.49 399.19,535.28 399.69,537.93 400.19,541.66 400.69,540.53 401.19,545.71 401.69,547.71 402.19,551.51 402.69,553.99 403.19,556.63 403.69,558.97 404.19,560.57 404.69,561.40 405.19,563.81 405.69,567.00 406.19,569.41 406.69,571.88 407.19,573.41 407.69,574.92 408.19,574.99 408.69,577.21 409.19,577.70 409.54,578.46" fill="#000"/><polygon points="371.38,578.46 371.85,567.69 372.92,561.54 374.15,555.38 375.69,550.77 377.23,546.15 378.77,540.00 380.31,533.85 381.54,527.69 382.62,523.08 383.38,530.77 384.62,538.46 385.69,544.62 386.77,550.77 387.69,556.92 388.77,563.08 389.85,569.23 390.77,575.38 391.38,578.46" fill="#fff"/><polyline points="371.38,578.46 371.85,567.69 372.92,561.54 374.15,555.38 375.69,550.77 377.23,546.15 378.77,540.00 380.31,533.85 381.54,527.69 382.62,523.08 383.38,530.77 384.62,538.46 385.69,544.62 386.77,550.77 387.69,556.92 388.77,563.08 389.85,569.23 390.77,575.38 391.38,578.46" fill="none" stroke="#aaa" stroke-width="2.0" stroke-linejoin="round" style="mix-blend-mode:multiply"/><polyline points="371.38,578.46 371.85,567.69 372.92,561.54 374.15,555.38 375.69,550.77 377.23,546.15 378.77,540.00 380.31,533.85 381.54,527.69 382.62,523.08" fill="none" stroke="#999" stroke-width="3.00" stroke-linejoin="round" style="mix-blend-mode:multiply"/><polyline points="371.38,578.46 371.38,578.61 371.88,564.40 372.38,562.56 372.88,560.41 373.38,560.07 373.88,558.48 374.38,553.51 374.88,552.02 375.38,548.19 375.88,552.29 376.38,548.38 376.88,549.29 377.38,545.87 377.88,543.87 378.38,540.93 378.88,541.64 379.38,534.68 379.88,536.16 380.38,534.11 380.88,527.46 381.38,527.97 381.88,527.15 382.38,520.57 382.88,522.27 383.38,530.72 383.88,533.69 384.38,538.37 384.88,537.65 385.38,543.48 385.88,542.52 386.38,545.48 386.88,551.66 387.38,553.65 387.88,554.52 388.38,558.89 388.88,562.13 389.38,565.02 389.88,569.73 390.38,571.76 390.88,576.05 391.38,578.60 391.38,578.46" fill="none" stroke="#222" stroke-width="1.00" style="mix-blend-mode:multiply"/></g>
<g clip-path="url(#kC15)"><polygon points="445.38,578.46 445.38,578.22 445.88,576.55 446.38,574.47 446.88,571.45 447.38,570.39 447.88,566.19 448.38,566.41 448.88,564.51 449.38,562.03 449.88,559.12 450.38,556.24 450.88,556.35 451.38,551.60 451.88,551.93 452.38,548.78 452.88,548.40 453.38,545.30 453.88,540.69 454.38,540.98 454.88,539.86 455.38,538.54 455.88,533.70 456.38,533.40 456.88,527.53 457.38,524.57 457.88,523.25 458.38,515.26 458.88,519.91 459.38,523.78 459.88,525.19 460.38,524.72 460.88,527.20 461.38,533.41 461.88,537.60 462.38,540.07 462.88,544.73 463.38,548.33 463.88,551.52 464.38,556.51 464.88,560.12 465.38,564.18 465.88,568.87 466.38,572.80 466.88,574.00 467.38,575.34 467.88,576.57 468.38,576.22 468.88,577.77 469.38,578.05 469.88,578.09 470.38,578.14 470.77,578.46" fill="#000"/><polygon points="445.38,578.46 445.38,567.69 446.46,561.54 447.69,555.38 449.23,550.77 450.77,547.69 452.31,544.62 453.85,540.00 455.38,530.77 456.15,521.54 457.23,524.62 458.15,523.08 459.23,533.85 460.31,543.08 461.54,552.31 462.77,561.54 463.85,569.23 464.92,575.38 466.15,578.46" fill="#fff"/><polyline points="445.38,578.46 445.38,567.69 446.46,561.54 447.69,555.38 449.23,550.77 450.77,547.69 452.31,544.62 453.85,540.00 455.38,530.77 456.15,521.54 457.23,524.62 458.15,523.08 459.23,533.85 460.31,543.08 461.54,552.31 462.77,561.54 463.85,569.23 464.92,575.38 466.15,578.46" fill="none" stroke="#aaa" stroke-width="2.0" stroke-linejoin="round" style="mix-blend-mode:multiply"/><polyline points="445.38,578.46 445.38,567.69 446.46,561.54 447.69,555.38 449.23,550.77 450.77,547.69 452.31,544.62 453.85,540.00 455.38,530.77 456.15,521.54" fill="none" stroke="#999" stroke-width="3.00" stroke-linejoin="round" style="mix-blend-mode:multiply"/><polyline points="445.38,578.46 445.38,567.29 445.88,566.01 446.38,562.36 446.88,555.96 447.38,556.15 447.88,552.57 448.38,554.65 448.88,552.22 449.38,552.56 449.88,549.90 450.38,547.32 450.88,548.33 451.38,547.38 451.88,543.08 452.38,546.06 452.88,543.85 453.38,539.86 453.88,541.87 454.38,538.02 454.88,532.32 455.38,527.63 455.88,521.52 456.38,518.70 456.88,523.67 457.38,526.46 457.88,521.96 458.38,525.68 458.88,532.03 459.38,532.61 459.88,541.55 460.38,541.88 460.88,546.89 461.38,549.71 461.88,554.95 462.38,557.71 462.88,562.80 463.38,566.37 463.88,567.87 464.38,569.91 464.88,575.19 465.38,576.58 465.88,577.88 466.15,578.46" fill="none" stroke="#222" stroke-width="1.00" style="mix-blend-mode:multiply"/></g>
<g clip-path="url(#kC20)"><polygon points="100.77,655.46 100.77,655.56 101.27,653.38 101.77,651.50 102.27,649.81 102.77,647.44 103.27,647.38 103.77,645.78 104.27,644.59 104.77,643.33 105.27,638.79 105.77,638.23 106.27,635.63 106.77,633.10 107.27,632.15 107.77,631.42 108.27,626.08 108.77,626.19 109.27,624.00 109.77,622.86 110.27,617.08 110.77,614.53 111.27,615.74 111.77,611.18 112.27,610.45 112.77,604.70 113.27,605.08 113.77,601.62 114.27,599.00 114.77,600.93 115.27,601.31 115.77,598.97 116.27,604.25 116.77,606.07 117.27,609.98 117.77,613.36 118.27,616.75 118.77,619.27 119.27,622.52 119.77,627.33 120.27,633.20 120.77,634.29 121.27,637.42 121.77,641.89 122.27,644.33 122.77,648.64 123.27,649.84 123.77,650.83 124.27,653.53 124.77,653.42 125.27,655.41 125.38,655.46" fill="#000"/><polygon points="80.77,655.46 81.38,647.77 82.62,644.69 84.15,640.08 85.69,635.46 87.23,630.85 88.77,626.23 90.31,620.08 91.85,613.92 93.08,608.54 94.15,612.38 94.92,617.00 95.69,623.15 96.77,629.31 98.00,635.46 99.23,641.62 100.31,646.23 101.08,650.85 102.31,655.46" fill="#fff"/><polyline points="80.77,655.46 81.38,647.77 82.62,644.69 84.15,640.08 85.69,635.46 87.23,630.85 88.77,626.23 90.31,620.08 91.85,613.92 93.08,608.54 94.15,612.38 94.92,617.00 95.69,623.15 96.77,629.31 98.00,635.46 99.23,641.62 100.31,646.23 101.08,650.85 102.31,655.46" fill="none" stroke="#aaa" stroke-width="2.0" stroke-linejoin="round" style="mix-blend-mode:multiply"/><polyline points="80.77,655.46 81.38,647.77 82.62,644.69 84.15,640.08 85.69,635.46 87.23,630.85 88.77,626.23 90.31,620.08 91.85,613.92 93.08,608.54" fill="none" stroke="#999" stroke-width="3.00" stroke-linejoin="round" style="mix-blend-mode:multiply"/><polyline points="80.77,655.46 80.77,655.31 81.27,649.56 81.77,647.19 82.27,645.15 82.77,642.65 83.27,642.38 83.77,642.19 84.27,639.93 84.77,635.57 85.27,634.53 85.77,636.61 86.27,633.08 86.77,628.73 87.27,629.24 87.77,630.79 88.27,627.93 88.77,625.98 89.27,620.77 89.77,618.73 90.27,621.54 90.77,618.39 91.27,615.17 91.77,612.66 92.27,608.57 92.77,607.30 93.27,606.57 93.77,610.78 94.27,611.80 94.77,617.06 95.27,619.60 95.77,623.61 96.27,624.51 96.77,629.34 97.27,630.74 97.77,630.81 98.27,634.39 98.77,639.85 99.27,639.52 99.77,642.85 100.27,646.05 100.77,648.08 101.27,651.83 101.77,652.26 102.27,654.95 102.31,655.46" fill="none" stroke="#222" stroke-width="1.00" style="mix-blend-mode:multiply"/></g>
<g clip-path="url(#kC21)"><polygon points="178.38,655.46 178.38,655.59 178.88,654.48 179.38,653.34 179.88,651.46 180.38,651.68 180.88,649.70 181.38,648.20 181.88,644.86 182.38,646.07 182.88,642.73 183.38,637.61 183.88,635.87 184.38,633.97 184.88,632.60 185.38,627.70 185.88,625.76 186.38,622.85 186.88,619.31 187.38,616.33 187.88,613.72 188.38,610.94 188.88,602.90 189.38,600.28 189.88,600.74 190.38,601.79 190.88,598.47 191.38,602.56 191.88,606.21 192.38,610.31 192.88,609.64 193.38,614.79 193.88,617.22 194.38,623.58 194.88,628.42 195.38,630.35 195.88,632.88 196.38,636.47 196.88,640.24 197.38,642.40 197.88,646.47 198.38,647.53 198.88,649.32 199.38,651.48 199.88,653.71 200.38,655.03 200.54,655.46" fill="#000"/><polygon points="156.38,655.46 156.38,644.69 157.46,638.54 158.69,635.46 160.23,630.85 161.77,626.23 163.00,621.62 164.08,615.46 165.15,610.85 166.38,601.62 167.15,610.85 168.23,607.77 169.15,606.23 169.77,615.46 170.69,623.15 171.77,630.85 172.85,638.54 174.08,644.69 175.31,649.31 176.38,652.38 177.92,653.92 179.46,655.46" fill="#fff"/><polyline points="156.38,655.46 156.38,644.69 157.46,638.54 158.69,635.46 160.23,630.85 161.77,626.23 163.00,621.62 164.08,615.46 165.15,610.85 166.38,601.62 167.15,610.85 168.23,607.77 169.15,606.23 169.77,615.46 170.69,623.15 171.77,630.85 172.85,638.54 174.08,644.69 175.31,649.31 176.38,652.38 177.92,653.92 179.46,655.46" fill="none" stroke="#aaa" stroke-width="2.0" stroke-linejoin="round" style="mix-blend-mode:multiply"/><polyline points="156.38,655.46 156.38,644.69 157.46,638.54 158.69,635.46 160.23,630.85 161.77,626.23 163.00,621.62 164.08,615.46 165.15,610.85 166.38,601.62" fill="none" stroke="#999" stroke-width="3.00" stroke-linejoin="round" style="mix-blend-mode:multiply"/><polyline points="156.38,655.46 156.38,644.66 156.88,641.83 157.38,639.24 157.88,635.35 158.38,634.99 158.88,636.14 159.38,633.63 159.88,628.64 160.38,632.38 160.88,629.73 161.38,629.48 161.88,623.94 162.38,621.13 162.88,623.00 163.38,621.52 163.88,618.25 164.38,615.96 164.88,613.55 165.38,607.93 165.88,606.84 166.38,602.76 166.88,609.41 167.38,612.29 167.88,610.83 168.38,606.26 168.88,608.78 169.38,606.80 169.88,613.84 170.38,617.09 170.88,625.98 171.38,628.16 171.88,633.77 172.38,633.94 172.88,637.51 173.38,641.03 173.88,641.82 174.38,645.96 174.88,649.10 175.38,650.26 175.88,650.89 176.38,651.61 176.88,652.27 177.38,653.82 177.88,653.41 178.38,654.38 178.88,654.74 179.38,655.43 179.46,655.46" fill="none" stroke="#222" stroke-width="1.00" style="mix-blend-mode:multiply"/></g>
<g clip-path="url(#kC22)"><polygon points="246.38,655.46 246.38,655.58 246.88,650.82 247.38,644.10 247.88,641.30 248.38,638.75 248.88,634.60 249.38,629.78 249.88,627.73 250.38,623.16 250.88,621.88 251.38,619.39 251.88,610.66 252.38,609.00 252.88,609.78 253.38,603.35 253.88,604.81 254.38,600.95 254.88,598.42 255.38,599.54 255.88,602.35 256.38,604.48 256.88,603.55 257.38,609.78 257.88,612.72 258.38,617.11 258.88,620.62 259.38,622.02 259.88,623.34 260.38,630.51 260.88,633.02 261.38,635.01 261.88,637.78 262.38,642.93 262.88,646.48 263.38,648.00 263.88,650.21 264.38,651.37 264.88,652.35 265.38,653.24 265.88,655.27 266.08,655.46" fill="#000"/><polygon points="228.38,655.46 228.38,649.31 229.15,641.62 230.69,638.54 231.92,633.92 233.00,629.31 234.08,624.69 235.31,623.15 236.54,618.54 237.62,615.46 238.38,612.38 239.62,607.77 240.23,600.08 241.15,610.85 242.23,617.00 243.00,623.15 244.23,630.85 245.31,637.00 246.08,643.15 246.85,647.77 247.62,655.46" fill="#fff"/><polyline points="228.38,655.46 228.38,649.31 229.15,641.62 230.69,638.54 231.92,633.92 233.00,629.31 234.08,624.69 235.31,623.15 236.54,618.54 237.62,615.46 238.38,612.38 239.62,607.77 240.23,600.08 241.15,610.85 242.23,617.00 243.00,623.15 244.23,630.85 245.31,637.00 246.08,643.15 246.85,647.77 247.62,655.46" fill="none" stroke="#aaa" stroke-width="2.0" stroke-linejoin="round" style="mix-blend-mode:multiply"/><polyline points="228.38,655.46 228.38,649.31 229.15,641.62 230.69,638.54 231.92,633.92 233.00,629.31 234.08,624.69 235.31,623.15 236.54,618.54 237.62,615.46 238.38,612.38 239.62,607.77 240.23,600.08" fill="none" stroke="#999" stroke-width="3.00" stroke-linejoin="round" style="mix-blend-mode:multiply"/><polyline points="228.38,655.46 228.38,648.87 228.88,640.81 229.38,637.65 229.88,640.27 230.38,640.34 230.88,636.26 231.38,635.34 231.88,632.92 232.38,631.00 232.88,631.65 233.38,628.51 233.88,625.56 234.38,625.10 234.88,620.18 235.38,624.97 235.88,620.95 236.38,619.43 236.88,619.65 237.38,617.73 237.88,614.54 238.38,613.51 238.88,612.61 239.38,606.21 239.88,605.08 240.38,603.97 240.88,604.21 241.38,610.62 241.88,617.12 242.38,617.97 242.88,619.86 243.38,625.80 243.88,625.90 244.38,632.76 244.88,633.31 245.38,634.53 245.88,642.43 246.38,645.62 246.88,648.46 247.38,652.41 247.62,655.46" fill="none" stroke="#222" stroke-width="1.00" style="mix-blend-mode:multiply"/></g>
<g clip-path="url(#kC23)"><polygon points="311.38,655.46 311.38,655.32 311.88,627.55 312.38,612.18 312.88,601.61 313.38,600.89 313.88,601.92 314.38,599.76 314.88,603.10 315.38,607.72 315.88,611.94 316.38,614.40 316.88,619.28 317.38,620.64 317.88,624.96 318.38,628.53 318.88,631.75 319.38,632.27 319.88,636.84 320.38,635.85 320.88,640.40 321.38,642.34 321.88,643.93 322.38,644.63 322.88,647.50 323.38,648.58 323.88,650.12 324.38,650.08 324.88,651.82 325.38,651.70 325.88,653.04 326.38,653.54 326.88,653.45 327.38,654.85 327.88,654.72 328.31,655.46" fill="#000"/><polygon points="299.85,655.46 300.62,649.31 302.15,644.69 303.69,638.54 305.23,632.38 306.77,627.77 308.31,623.15 309.85,617.00 311.38,609.31 312.15,601.62 312.92,607.77 313.69,613.92 314.46,621.62 315.23,629.31 316.00,637.00 317.23,643.15 318.31,647.77 319.85,652.38 321.38,655.46" fill="#fff"/><polyline points="299.85,655.46 300.62,649.31 302.15,644.69 303.69,638.54 305.23,632.38 306.77,627.77 308.31,623.15 309.85,617.00 311.38,609.31 312.15,601.62 312.92,607.77 313.69,613.92 314.46,621.62 315.23,629.31 316.00,637.00 317.23,643.15 318.31,647.77 319.85,652.38 321.38,655.46" fill="none" stroke="#aaa" stroke-width="2.0" stroke-linejoin="round" style="mix-blend-mode:multiply"/><polyline points="299.85,655.46 300.62,649.31 302.15,644.69 303.69,638.54 305.23,632.38 306.77,627.77 308.31,623.15 309.85,617.00 311.38,609.31 312.15,601.62" fill="none" stroke="#999" stroke-width="3.00" stroke-linejoin="round" style="mix-blend-mode:multiply"/><polyline points="299.85,655.46 299.85,655.50 300.35,651.49 300.85,648.06 301.35,647.74 301.85,646.29 302.35,641.70 302.85,641.06 303.35,641.19 303.85,636.89 304.35,633.71 304.85,633.67 305.35,633.61 305.85,632.64 306.35,627.35 306.85,626.67 307.35,628.14 307.85,622.06 308.35,621.47 308.85,621.33 309.35,619.99 309.85,615.59 310.35,611.00 310.85,611.08 311.35,607.02 311.85,606.79 312.35,601.89 312.85,608.70 313.35,609.86 313.85,613.66 314.35,622.56 314.85,624.54 315.35,628.80 315.85,634.93 316.35,639.26 316.85,639.37 317.35,644.12 317.85,643.86 318.35,648.38 318.85,649.57 319.35,649.37 319.85,652.12 320.35,653.20 320.85,653.22 321.35,655.65 321.38,655.46" fill="none" stroke="#222" stroke-width="1.00" style="mix-blend-mode:multiply"/></g>
<g clip-path="url(#kC24)"><polygon points="388.31,655.46 388.31,655.16 388.81,616.34 389.31,614.65 389.81,611.07 390.31,609.59 390.81,608.36 391.31,606.14 391.81,604.36 392.31,601.21 392.81,602.08 393.31,604.25 393.81,601.47 394.31,605.94 394.81,605.39 395.31,600.85 395.81,599.97 396.31,600.95 396.81,602.72 397.31,602.03 397.81,606.41 398.31,605.18 398.81,604.96 399.31,603.08 399.81,605.08 400.31,608.64 400.81,606.01 401.31,608.84 401.81,613.70 402.31,617.12 402.81,618.43 403.31,619.88 403.81,622.47 404.31,624.13 404.81,624.39 405.31,628.03 405.81,627.54 406.31,633.99 406.81,635.27 407.31,636.88 407.81,638.88 408.31,640.58 408.81,643.54 409.31,644.75 409.81,647.83 410.31,649.51 410.81,650.75 411.31,651.98 411.81,651.37 412.31,652.74 412.81,653.55 413.31,654.27 413.81,654.44 414.15,655.46" fill="#000"/><polygon points="372.62,655.46 372.92,647.77 374.15,643.15 375.69,637.00 377.23,630.85 378.77,624.69 380.31,620.08 381.85,613.92 383.38,607.77 384.15,603.15 384.92,610.85 385.69,607.77 386.46,615.46 387.23,621.62 388.00,629.31 389.23,637.00 390.31,643.15 391.08,649.31 392.31,655.46" fill="#fff"/><polyline points="372.62,655.46 372.92,647.77 374.15,643.15 375.69,637.00 377.23,630.85 378.77,624.69 380.31,620.08 381.85,613.92 383.38,607.77 384.15,603.15 384.92,610.85 385.69,607.77 386.46,615.46 387.23,621.62 388.00,629.31 389.23,637.00 390.31,643.15 391.08,649.31 392.31,655.46" fill="none" stroke="#aaa" stroke-width="2.0" stroke-linejoin="round" style="mix-blend-mode:multiply"/><polyline points="372.62,655.46 372.92,647.77 374.15,643.15 375.69,637.00 377.23,630.85 378.77,624.69 380.31,620.08 381.85,613.92 383.38,607.77 384.15,603.15" fill="none" stroke="#999" stroke-width="3.00" stroke-linejoin="round" style="mix-blend-mode:multiply"/><polyline points="372.62,655.46 372.62,655.53 373.12,646.37 373.62,645.93 374.12,642.45 374.62,642.76 375.12,638.13 375.62,634.29 376.12,635.86 376.62,632.43 377.12,631.49 377.62,629.95 378.12,628.06 378.62,623.98 379.12,621.40 379.62,622.78 380.12,622.75 380.62,615.35 381.12,613.35 381.62,616.09 382.12,613.32 382.62,607.35 383.12,609.73 383.62,606.63 384.12,601.21 384.62,609.87 385.12,606.58 385.62,609.33 386.12,608.50 386.62,617.28 387.12,617.43 387.62,625.75 388.12,630.71 388.62,634.45 389.12,636.79 389.62,639.33 390.12,642.21 390.62,645.44 391.12,647.64 391.62,651.01 392.12,654.09 392.31,655.46" fill="none" stroke="#222" stroke-width="1.00" style="mix-blend-mode:multiply"/></g>
<g clip-path="url(#kC25)"><polygon points="458.15,655.46 458.15,655.38 458.65,610.12 459.15,608.42 459.65,606.97 460.15,600.42 460.65,595.52 461.15,592.14 461.65,595.95 462.15,604.86 462.65,603.66 463.15,612.79 463.65,614.28 464.15,621.67 464.65,627.66 465.15,631.99 465.65,636.83 466.15,640.86 466.65,644.46 467.15,646.23 467.65,647.19 468.15,649.58 468.65,650.47 469.15,651.30 469.65,652.92 470.15,653.50 470.65,654.01 471.15,655.21 471.54,655.46" fill="#000"/><polygon points="445.38,655.46 445.38,644.69 446.46,640.08 447.69,635.46 449.23,630.85 450.77,626.23 452.31,620.08 453.85,613.92 455.38,609.31 456.15,606.23 456.92,612.38 457.69,615.46 458.46,621.62 459.23,627.77 460.00,635.46 460.77,641.62 461.85,647.77 463.08,652.38 464.62,655.46" fill="#fff"/><polyline points="445.38,655.46 445.38,644.69 446.46,640.08 447.69,635.46 449.23,630.85 450.77,626.23 452.31,620.08 453.85,613.92 455.38,609.31 456.15,606.23 456.92,612.38 457.69,615.46 458.46,621.62 459.23,627.77 460.00,635.46 460.77,641.62 461.85,647.77 463.08,652.38 464.62,655.46" fill="none" stroke="#aaa" stroke-width="2.0" stroke-linejoin="round" style="mix-blend-mode:multiply"/><polyline points="445.38,655.46 445.38,644.69 446.46,640.08 447.69,635.46 449.23,630.85 450.77,626.23 452.31,620.08 453.85,613.92 455.38,609.31 456.15,606.23" fill="none" stroke="#999" stroke-width="3.00" stroke-linejoin="round" style="mix-blend-mode:multiply"/><polyline points="445.38,655.46 445.38,645.03 445.88,643.84 446.38,640.92 446.88,639.45 447.38,635.57 447.88,634.73 448.38,633.76 448.88,633.98 449.38,632.25 449.88,629.08 450.38,625.48 450.88,627.52 451.38,622.48 451.88,621.12 452.38,616.39 452.88,616.20 453.38,617.35 453.88,612.47 454.38,608.81 454.88,610.26 455.38,606.68 455.88,605.56 456.38,604.58 456.88,608.58 457.38,614.52 457.88,617.56 458.38,621.07 458.88,626.23 459.38,626.90 459.88,634.56 460.38,635.95 460.88,643.87 461.38,642.63 461.88,647.71 462.38,647.99 462.88,652.02 463.38,653.29 463.88,654.40 464.38,655.10 464.62,655.46" fill="none" stroke="#222" stroke-width="1.00" style="mix-blend-mode:multiply"/></g>
<g clip-path="url(#kC30)"><polygon points="99.23,732.46 99.23,732.43 99.73,728.18 100.23,721.72 100.73,721.62 101.23,718.49 101.73,715.42 102.23,715.43 102.73,713.04 103.23,705.73 103.73,705.24 104.23,702.78 104.73,696.34 105.23,691.67 105.73,687.88 106.23,685.38 106.73,678.83 107.23,678.08 107.73,675.40 108.23,672.37 108.73,673.08 109.23,675.70 109.73,678.43 110.23,680.23 110.73,685.79 111.23,688.38 111.73,693.40 112.23,699.66 112.73,700.69 113.23,705.91 113.73,705.98 114.23,710.55 114.73,711.73 115.23,716.91 115.73,718.58 116.23,721.32 116.73,723.11 117.23,724.95 117.73,726.30 118.23,728.83 118.73,730.20 119.23,732.43 119.23,732.46" fill="#000"/><polygon points="82.62,732.46 82.62,721.69 83.38,712.46 84.46,706.31 85.69,703.23 86.92,698.62 88.00,694.00 89.08,687.85 90.00,683.23 91.08,680.15 92.15,678.62 93.38,683.23 94.15,689.38 94.92,695.54 95.69,701.69 96.46,707.85 97.69,715.54 98.77,721.69 99.85,727.85 100.77,732.46" fill="#fff"/><polyline points="82.62,732.46 82.62,721.69 83.38,712.46 84.46,706.31 85.69,703.23 86.92,698.62 88.00,694.00 89.08,687.85 90.00,683.23 91.08,680.15 92.15,678.62 93.38,683.23 94.15,689.38 94.92,695.54 95.69,701.69 96.46,707.85 97.69,715.54 98.77,721.69 99.85,727.85 100.77,732.46" fill="none" stroke="#aaa" stroke-width="2.0" stroke-linejoin="round" style="mix-blend-mode:multiply"/><polyline points="82.62,732.46 82.62,721.69 83.38,712.46 84.46,706.31 85.69,703.23 86.92,698.62 88.00,694.00 89.08,687.85 90.00,683.23 91.08,680.15 92.15,678.62" fill="none" stroke="#999" stroke-width="3.00" stroke-linejoin="round" style="mix-blend-mode:multiply"/><polyline points="82.62,732.46 82.62,721.86 83.12,716.76 83.62,712.03 84.12,704.79 84.62,704.50 85.12,704.92 85.62,701.92 86.12,698.46 86.62,696.27 87.12,697.25 87.62,696.99 88.12,693.08 88.62,691.49 89.12,685.18 89.62,686.22 90.12,683.70 90.62,678.24 91.12,676.60 91.62,675.88 92.12,680.77 92.62,679.04 93.12,683.28 93.62,685.09 94.12,690.22 94.62,694.21 95.12,696.96 95.62,701.63 96.12,703.41 96.62,710.91 97.12,710.77 97.62,711.56 98.12,717.05 98.62,721.65 99.12,722.15 99.62,726.91 100.12,727.53 100.62,731.38 100.77,732.46" fill="none" stroke="#222" stroke-width="1.00" style="mix-blend-mode:multiply"/></g>
<g clip-path="url(#kC31)"><polygon points="174.38,732.46 174.38,732.27 174.88,728.41 175.38,724.31 175.88,721.44 176.38,719.59 176.88,717.62 177.38,713.94 177.88,712.86 178.38,711.27 178.88,706.64 179.38,704.94 179.88,699.79 180.38,698.54 180.88,695.87 181.38,690.99 181.88,690.96 182.38,689.95 182.88,685.65 183.38,683.81 183.88,679.52 184.38,679.24 184.88,672.19 185.38,676.63 185.88,681.48 186.38,680.50 186.88,682.66 187.38,684.71 187.88,682.70 188.38,688.87 188.88,691.48 189.38,693.29 189.88,697.97 190.38,700.22 190.88,700.74 191.38,706.06 191.88,705.53 192.38,709.59 192.88,714.74 193.38,717.66 193.88,718.85 194.38,721.55 194.88,724.25 195.38,726.85 195.88,728.64 196.38,730.46 196.88,731.37 197.15,732.46" fill="#000"/><polygon points="154.38,732.46 154.85,718.62 155.62,712.46 157.15,706.31 158.38,700.15 159.46,695.54 160.54,692.46 161.77,689.38 163.00,684.77 164.08,680.15 165.15,674.00 166.38,677.08 167.15,684.77 167.92,690.92 168.69,697.08 169.46,703.23 170.69,710.92 171.77,718.62 172.85,724.77 173.77,729.38 174.85,732.46" fill="#fff"/><polyline points="154.38,732.46 154.85,718.62 155.62,712.46 157.15,706.31 158.38,700.15 159.46,695.54 160.54,692.46 161.77,689.38 163.00,684.77 164.08,680.15 165.15,674.00 166.38,677.08 167.15,684.77 167.92,690.92 168.69,697.08 169.46,703.23 170.69,710.92 171.77,718.62 172.85,724.77 173.77,729.38 174.85,732.46" fill="none" stroke="#aaa" stroke-width="2.0" stroke-linejoin="round" style="mix-blend-mode:multiply"/><polyline points="154.38,732.46 154.85,718.62 155.62,712.46 157.15,706.31 158.38,700.15 159.46,695.54 160.54,692.46 161.77,689.38 163.00,684.77 164.08,680.15 165.15,674.00" fill="none" stroke="#999" stroke-width="3.00" stroke-linejoin="round" style="mix-blend-mode:multiply"/><polyline points="154.38,732.46 154.38,732.53 154.88,717.75 155.38,716.13 155.88,707.88 156.38,709.59 156.88,708.02 157.38,706.67 157.88,699.15 158.38,700.91 158.88,698.45 159.38,692.58 159.88,695.80 160.38,689.40 160.88,688.10 161.38,690.18 161.88,685.45 162.38,685.14 162.88,685.96 163.38,683.39 163.88,677.49 164.38,679.22 164.88,677.64 165.38,676.68 165.88,675.17 166.38,675.82 166.88,683.58 167.38,688.07 167.88,688.49 168.38,694.08 168.88,698.70 169.38,701.73 169.88,706.76 170.38,706.34 170.88,712.49 171.38,712.88 171.88,717.87 172.38,721.85 172.88,725.34 173.38,727.74 173.88,728.81 174.38,730.29 174.85,732.46" fill="none" stroke="#222" stroke-width="1.00" style="mix-blend-mode:multiply"/></g>
<g clip-path="url(#kC32)"><polygon points="241.15,732.46 241.15,732.48 241.65,698.66 242.15,695.40 242.65,692.84 243.15,686.07 243.65,687.24 244.15,680.54 244.65,678.26 245.15,670.50 245.65,672.99 246.15,674.12 246.65,673.74 247.15,682.47 247.65,685.33 248.15,686.70 248.65,690.39 249.15,695.70 249.65,698.63 250.15,698.37 250.65,706.05 251.15,710.09 251.65,713.13 252.15,715.73 252.65,720.39 253.15,722.51 253.65,724.16 254.15,726.26 254.65,727.13 255.15,727.91 255.65,730.26 256.15,731.95 256.54,732.46" fill="#000"/><polygon points="225.77,732.46 226.38,720.15 227.62,715.54 228.85,709.38 229.92,704.77 231.00,700.15 232.23,695.54 233.46,690.92 234.54,687.85 235.62,684.77 236.85,678.62 237.62,681.69 238.38,684.77 239.15,687.85 239.92,694.00 240.69,701.69 241.46,709.38 242.23,715.54 243.31,721.69 244.54,727.85 245.77,732.46" fill="#fff"/><polyline points="225.77,732.46 226.38,720.15 227.62,715.54 228.85,709.38 229.92,704.77 231.00,700.15 232.23,695.54 233.46,690.92 234.54,687.85 235.62,684.77 236.85,678.62 237.62,681.69 238.38,684.77 239.15,687.85 239.92,694.00 240.69,701.69 241.46,709.38 242.23,715.54 243.31,721.69 244.54,727.85 245.77,732.46" fill="none" stroke="#aaa" stroke-width="2.0" stroke-linejoin="round" style="mix-blend-mode:multiply"/><polyline points="225.77,732.46 226.38,720.15 227.62,715.54 228.85,709.38 229.92,704.77 231.00,700.15 232.23,695.54 233.46,690.92 234.54,687.85 235.62,684.77 236.85,678.62" fill="none" stroke="#999" stroke-width="3.00" stroke-linejoin="round" style="mix-blend-mode:multiply"/><polyline points="225.77,732.46 225.77,732.38 226.27,724.56 226.77,719.06 227.27,717.48 227.77,715.81 228.27,710.92 228.77,711.87 229.27,708.29 229.77,704.79 230.27,703.92 230.77,698.60 231.27,699.88 231.77,697.25 232.27,695.50 232.77,695.62 233.27,691.73 233.77,690.21 234.27,688.21 234.77,686.72 235.27,682.26 235.77,680.50 236.27,680.94 236.77,677.42 237.27,677.25 237.77,682.04 238.27,685.37 238.77,683.48 239.27,688.19 239.77,693.88 240.27,693.96 240.77,703.49 241.27,706.34 241.77,712.95 242.27,715.64 242.77,719.83 243.27,720.17 243.77,723.06 244.27,727.94 244.77,729.08 245.27,730.72 245.77,732.53 245.77,732.46" fill="none" stroke="#222" stroke-width="1.00" style="mix-blend-mode:multiply"/></g>
<g clip-path="url(#kC33)"><polygon points="298.77,732.46 298.77,715.56 299.27,708.24 299.77,706.53 300.27,703.08 300.77,700.44 301.27,695.99 301.77,696.00 302.27,694.82 302.77,688.78 303.27,688.56 303.77,686.18 304.27,687.20 304.77,685.98 305.27,682.77 305.77,683.62 306.27,680.86 306.77,678.06 307.27,673.38 307.77,677.66 308.27,672.38 308.77,675.76 309.27,670.70 309.77,672.92 310.27,673.06 310.77,681.02 311.27,683.99 311.77,686.13 312.27,687.40 312.77,695.63 313.27,696.51 313.77,703.35 314.27,703.58 314.77,709.66 315.27,714.39 315.77,715.18 316.27,718.41 316.77,722.29 317.27,723.95 317.77,724.65 318.27,725.80 318.77,727.69 319.27,727.18 319.77,729.05 320.27,729.60 320.77,730.61 321.27,730.84 321.77,731.87 322.27,732.05 322.77,732.35 322.92,732.46" fill="#000"/><polygon points="300.31,732.46 300.31,720.15 301.38,712.46 302.46,704.77 304.00,698.62 305.54,694.00 307.08,689.38 308.62,684.77 309.85,683.23 310.62,689.38 311.38,697.08 312.15,704.77 312.92,710.92 313.85,717.08 314.77,721.69 316.00,725.54 317.54,728.62 319.08,730.92 320.62,732.46" fill="#fff"/><polyline points="300.31,732.46 300.31,720.15 301.38,712.46 302.46,704.77 304.00,698.62 305.54,694.00 307.08,689.38 308.62,684.77 309.85,683.23 310.62,689.38 311.38,697.08 312.15,704.77 312.92,710.92 313.85,717.08 314.77,721.69 316.00,725.54 317.54,728.62 319.08,730.92 320.62,732.46" fill="none" stroke="#aaa" stroke-width="2.0" stroke-linejoin="round" style="mix-blend-mode:multiply"/><polyline points="300.31,732.46 300.31,720.15 301.38,712.46 302.46,704.77 304.00,698.62 305.54,694.00 307.08,689.38 308.62,684.77 309.85,683.23" fill="none" stroke="#999" stroke-width="3.00" stroke-linejoin="round" style="mix-blend-mode:multiply"/><polyline points="300.31,732.46 300.31,719.99 300.81,717.06 301.31,711.28 301.81,710.11 302.31,705.35 302.81,703.95 303.31,698.28 303.81,701.48 304.31,699.15 304.81,697.42 305.31,696.79 305.81,689.93 306.31,689.52 306.81,689.59 307.31,689.60 307.81,686.67 308.31,687.79 308.81,682.41 309.31,686.00 309.81,681.17 310.31,687.87 310.81,687.81 311.31,692.81 311.81,700.37 312.31,706.03 312.81,712.10 313.31,713.80 313.81,713.94 314.31,717.82 314.81,719.04 315.31,723.06 315.81,724.60 316.31,724.40 316.81,727.03 317.31,728.15 317.81,729.00 318.31,729.71 318.81,730.20 319.31,730.62 319.81,732.18 320.31,732.08 320.62,732.46" fill="none" stroke="#222" stroke-width="1.00" style="mix-blend-mode:multiply"/></g>
<g clip-path="url(#kC34)"><polygon points="383.38,732.46 383.38,732.51 383.88,699.44 384.38,681.41 384.88,675.06 385.38,674.21 385.88,677.87 386.38,680.08 386.88,682.13 387.38,682.62 387.88,685.88 388.38,684.46 388.88,691.59 389.38,690.49 389.88,693.87 390.38,692.81 390.88,697.99 391.38,698.09 391.88,697.62 392.38,702.36 392.88,703.47 393.38,706.52 393.88,708.54 394.38,711.25 394.88,710.51 395.38,711.61 395.88,713.53 396.38,715.62 396.88,716.55 397.38,717.98 397.88,719.30 398.38,720.83 398.88,721.93 399.38,721.20 399.88,724.03 400.38,724.88 400.88,725.04 401.38,726.50 401.88,726.99 402.38,727.56 402.88,728.62 403.38,729.60 403.88,728.71 404.38,729.07 404.88,730.25 405.38,730.49 405.88,730.51 406.38,731.70 406.88,732.32 407.23,732.46" fill="#000"/><polygon points="372.31,732.46 372.31,721.69 373.38,715.54 374.46,709.38 375.69,703.23 376.92,698.62 378.00,694.00 379.08,689.38 380.31,684.77 381.54,680.15 382.62,675.54 383.38,672.46 384.15,677.08 384.92,684.77 385.69,690.92 386.46,698.62 387.23,706.31 388.00,714.00 389.23,721.69 390.31,727.85 391.08,732.46" fill="#fff"/><polyline points="372.31,732.46 372.31,721.69 373.38,715.54 374.46,709.38 375.69,703.23 376.92,698.62 378.00,694.00 379.08,689.38 380.31,684.77 381.54,680.15 382.62,675.54 383.38,672.46 384.15,677.08 384.92,684.77 385.69,690.92 386.46,698.62 387.23,706.31 388.00,714.00 389.23,721.69 390.31,727.85 391.08,732.46" fill="none" stroke="#aaa" stroke-width="2.0" stroke-linejoin="round" style="mix-blend-mode:multiply"/><polyline points="372.31,732.46 372.31,721.69 373.38,715.54 374.46,709.38 375.69,703.23 376.92,698.62 378.00,694.00 379.08,689.38 380.31,684.77 381.54,680.15 382.62,675.54 383.38,672.46" fill="none" stroke="#999" stroke-width="3.00" stroke-linejoin="round" style="mix-blend-mode:multiply"/><polyline points="372.31,732.46 372.31,721.92 372.81,717.51 373.31,714.00 373.81,712.28 374.31,707.52 374.81,707.10 375.31,704.20 375.81,702.70 376.31,702.03 376.81,696.38 377.31,697.19 377.81,695.08 378.31,692.13 378.81,692.24 379.31,685.02 379.81,686.40 380.31,683.90 380.81,679.77 381.31,683.12 381.81,679.49 382.31,678.67 382.81,671.27 383.31,674.87 383.81,676.23 384.31,675.12 384.81,684.97 385.31,686.34 385.81,688.58 386.31,695.48 386.81,700.91 387.31,705.88 387.81,712.15 388.31,717.01 388.81,719.55 389.31,722.26 389.81,724.35 390.31,728.12 390.81,730.19 391.08,732.46" fill="none" stroke="#222" stroke-width="1.00" style="mix-blend-mode:multiply"/></g>
<g clip-path="url(#kC35)"><polygon points="456.92,732.46 456.92,732.46 457.42,678.10 457.92,679.05 458.42,677.78 458.92,672.75 459.42,670.84 459.92,673.07 460.42,675.61 460.92,677.33 461.42,681.00 461.92,678.96 462.42,684.54 462.92,691.89 463.42,694.16 463.92,701.51 464.42,706.03 464.92,711.54 465.42,717.15 465.92,718.17 466.42,721.43 466.92,723.46 467.42,723.87 467.92,728.21 468.42,728.53 468.92,730.42 469.42,731.38 469.92,732.33 470.00,732.46" fill="#000"/><polygon points="445.38,732.46 445.38,720.15 446.46,715.54 447.69,709.38 448.92,703.23 450.00,698.62 451.08,694.00 452.31,689.38 453.54,684.77 454.62,681.69 455.38,678.62 456.62,672.46 457.69,680.15 458.46,684.77 459.23,690.92 460.00,698.62 460.77,706.31 461.54,714.00 462.77,721.69 463.85,727.85 464.92,732.46" fill="#fff"/><polyline points="445.38,732.46 445.38,720.15 446.46,715.54 447.69,709.38 448.92,703.23 450.00,698.62 451.08,694.00 452.31,689.38 453.54,684.77 454.62,681.69 455.38,678.62 456.62,672.46 457.69,680.15 458.46,684.77 459.23,690.92 460.00,698.62 460.77,706.31 461.54,714.00 462.77,721.69 463.85,727.85 464.92,732.46" fill="none" stroke="#aaa" stroke-width="2.0" stroke-linejoin="round" style="mix-blend-mode:multiply"/><polyline points="445.38,732.46 445.38,720.15 446.46,715.54 447.69,709.38 448.92,703.23 450.00,698.62 451.08,694.00 452.31,689.38 453.54,684.77 454.62,681.69 455.38,678.62 456.62,672.46" fill="none" stroke="#999" stroke-width="3.00" stroke-linejoin="round" style="mix-blend-mode:multiply"/><polyline points="445.38,732.46 445.38,718.89 445.88,718.39 446.38,715.30 446.88,714.22 447.38,710.21 447.88,707.47 448.38,705.61 448.88,704.86 449.38,700.81 449.88,695.67 450.38,697.18 450.88,696.31 451.38,693.38 451.88,689.90 452.38,688.07 452.88,689.32 453.38,687.45 453.88,685.88 454.38,678.85 454.88,677.12 455.38,678.49 455.88,678.15 456.38,675.72 456.88,674.69 457.38,677.92 457.88,680.69 458.38,686.41 458.88,690.12 459.38,690.10 459.88,699.31 460.38,703.82 460.88,708.23 461.38,711.46 461.88,716.86 462.38,719.79 462.88,723.83 463.38,722.58 463.88,726.16 464.38,729.56 464.88,732.71 464.92,732.46" fill="none" stroke="#222" stroke-width="1.00" style="mix-blend-mode:multiply"/></g>
<g stroke="#000" stroke-width="2.00" fill="none" stroke-linecap="square"><line x1="80.00" y1="55.80" x2="80.00" y2="133.00"/><line x1="153.20" y1="55.80" x2="153.20" y2="133.00"/><line x1="225.00" y1="55.80" x2="225.00" y2="133.00"/><line x1="298.00" y1="55.80" x2="298.00" y2="133.00"/><line x1="370.00" y1="55.80" x2="370.00" y2="133.00"/><line x1="443.00" y1="55.80" x2="443.00" y2="133.00"/><line x1="516.40" y1="55.80" x2="516.40" y2="133.00"/><line x1="80.00" y1="55.80" x2="516.40" y2="55.80"/><line x1="80.00" y1="133.00" x2="516.40" y2="133.00"/><line x1="80.00" y1="202.20" x2="80.00" y2="433.10"/><line x1="153.20" y1="202.20" x2="153.20" y2="433.10"/><line x1="225.00" y1="202.20" x2="225.00" y2="433.10"/><line x1="298.00" y1="202.20" x2="298.00" y2="433.10"/><line x1="370.00" y1="202.20" x2="370.00" y2="433.10"/><line x1="443.00" y1="202.20" x2="443.00" y2="433.10"/><line x1="516.40" y1="202.20" x2="516.40" y2="433.10"/><line x1="80.00" y1="202.20" x2="516.40" y2="202.20"/><line x1="80.00" y1="279.00" x2="516.40" y2="279.00"/><line x1="80.00" y1="356.00" x2="516.40" y2="356.00"/><line x1="80.00" y1="433.10" x2="516.40" y2="433.10"/><line x1="80.00" y1="501.40" x2="80.00" y2="732.60"/><line x1="153.20" y1="501.40" x2="153.20" y2="732.60"/><line x1="225.00" y1="501.40" x2="225.00" y2="732.60"/><line x1="298.00" y1="501.40" x2="298.00" y2="732.60"/><line x1="370.00" y1="501.40" x2="370.00" y2="732.60"/><line x1="443.00" y1="501.40" x2="443.00" y2="732.60"/><line x1="516.40" y1="501.40" x2="516.40" y2="732.60"/><line x1="80.00" y1="501.40" x2="516.40" y2="501.40"/><line x1="80.00" y1="579.20" x2="516.40" y2="579.20"/><line x1="80.00" y1="656.00" x2="516.40" y2="656.00"/><line x1="80.00" y1="732.60" x2="516.40" y2="732.60"/><rect x="80.00" y="55.80" width="436.40" height="77.20" rx="1.2"/><rect x="80.00" y="202.20" width="436.40" height="230.90" rx="1.2"/><rect x="80.00" y="501.40" width="436.40" height="231.20" rx="1.2"/></g>
<g stroke="#000" stroke-width="1.3" fill="none"><path d="M81.70 743.80 V754.20 H137.30 V743.80 M100.23 754.20 V748.90 M118.77 754.20 V748.90"/><path d="M150.40 743.70 V754.10 H206.00 V743.70 M168.93 754.10 V748.80 M187.47 754.10 V748.80"/><path d="M227.60 743.00 V753.40 H283.20 V743.00 M246.13 753.40 V748.10 M264.67 753.40 V748.10"/><path d="M301.60 742.90 V753.30 H357.20 V742.90 M320.13 753.30 V748.00 M338.67 753.30 V748.00"/><path d="M373.10 742.90 V753.30 H428.70 V742.90 M391.63 753.30 V748.00 M410.17 753.30 V748.00"/><path d="M446.70 742.80 V753.20 H502.30 V742.80 M465.23 753.20 V747.90 M483.77 753.20 V747.90"/></g>
<g fill="#000"><path d="M101.10 762.30 h2.05 v10.0 h-2.05 z M101.30 762.30 l-2.9 1.9 v2.1 l2.9 -1.5 z"/><path d="M169.80 762.20 h2.05 v10.0 h-2.05 z M170.00 762.20 l-2.9 1.9 v2.1 l2.9 -1.5 z"/><path d="M247.00 761.50 h2.05 v10.0 h-2.05 z M247.20 761.50 l-2.9 1.9 v2.1 l2.9 -1.5 z"/><path d="M321.00 761.40 h2.05 v10.0 h-2.05 z M321.20 761.40 l-2.9 1.9 v2.1 l2.9 -1.5 z"/><path d="M392.50 761.40 h2.05 v10.0 h-2.05 z M392.70 761.40 l-2.9 1.9 v2.1 l2.9 -1.5 z"/><path d="M466.10 761.30 h2.05 v10.0 h-2.05 z M466.30 761.30 l-2.9 1.9 v2.1 l2.9 -1.5 z"/></g>
<g font-family="Liberation Sans, sans-serif" font-weight="bold" fill="#000" stroke="#000" stroke-width="0.3"><text x="-0.22" y="16.70" font-size="24.00" textLength="17.19" lengthAdjust="spacingAndGlyphs">A</text>
<text x="34.00" y="16.10" font-size="20.50" textLength="129.87" lengthAdjust="spacingAndGlyphs">Unstimulated</text>
<text x="-0.14" y="179.20" font-size="21.00" textLength="14.70" lengthAdjust="spacingAndGlyphs">B</text>
<text x="27.99" y="179.20" font-size="20.50" textLength="212.08" lengthAdjust="spacingAndGlyphs">Stimulation by CD40L</text>
<text x="-0.02" y="478.60" font-size="21.50" textLength="15.59" lengthAdjust="spacingAndGlyphs">C</text>
<text x="29.56" y="478.30" font-size="20.00" textLength="168.86" lengthAdjust="spacingAndGlyphs">Mock Stimulation</text>
<text x="78.41" y="44.30" font-size="16.50" textLength="44.96" lengthAdjust="spacingAndGlyphs">CD40</text>
<text x="151.93" y="44.30" font-size="16.50" textLength="60.94" lengthAdjust="spacingAndGlyphs">ICAM-1</text>
<text x="224.90" y="44.30" font-size="16.50" textLength="50.48" lengthAdjust="spacingAndGlyphs">LFA-3</text>
<text x="296.89" y="44.30" font-size="16.50" textLength="36.94" lengthAdjust="spacingAndGlyphs">B7-1</text>
<text x="370.88" y="44.30" font-size="16.50" textLength="39.97" lengthAdjust="spacingAndGlyphs">B7-2</text>
<text x="442.63" y="44.30" font-size="16.50" textLength="30.67" lengthAdjust="spacingAndGlyphs">Fas</text>
<text x="1.46" y="104.60" font-size="17.50" textLength="22.10" lengthAdjust="spacingAndGlyphs">0h</text>
<text x="1.74" y="245.20" font-size="17.50" textLength="30.92" lengthAdjust="spacingAndGlyphs">24h</text>
<text x="1.76" y="331.60" font-size="17.50" textLength="30.92" lengthAdjust="spacingAndGlyphs">72h</text>
<text x="2.73" y="406.30" font-size="17.50" textLength="40.43" lengthAdjust="spacingAndGlyphs">120h</text>
<text x="1.81" y="548.80" font-size="17.50" textLength="31.95" lengthAdjust="spacingAndGlyphs">24h</text>
<text x="1.78" y="636.00" font-size="17.50" textLength="32.23" lengthAdjust="spacingAndGlyphs">72h</text>
<text x="2.51" y="710.00" font-size="17.50" textLength="41.02" lengthAdjust="spacingAndGlyphs">120h</text>
<text x="190.40" y="800.10" font-size="15.50" textLength="205.28" lengthAdjust="spacingAndGlyphs" font-style="italic">Log Fluorescence Intensity</text>
<text x="83.50" y="772.20" font-size="13.00" text-anchor="middle">0</text>
<text x="120.15" y="772.20" font-size="13.00" text-anchor="middle">2</text>
<text x="137.70" y="772.20" font-size="13.00" text-anchor="middle">3</text>
<text x="152.20" y="772.10" font-size="13.00" text-anchor="middle">0</text>
<text x="188.85" y="772.10" font-size="13.00" text-anchor="middle">2</text>
<text x="206.40" y="772.10" font-size="13.00" text-anchor="middle">3</text>
<text x="229.40" y="771.40" font-size="13.00" text-anchor="middle">0</text>
<text x="266.05" y="771.40" font-size="13.00" text-anchor="middle">2</text>
<text x="283.60" y="771.40" font-size="13.00" text-anchor="middle">3</text>
<text x="303.40" y="771.30" font-size="13.00" text-anchor="middle">0</text>
<text x="340.05" y="771.30" font-size="13.00" text-anchor="middle">2</text>
<text x="357.60" y="771.30" font-size="13.00" text-anchor="middle">3</text>
<text x="374.90" y="771.30" font-size="13.00" text-anchor="middle">0</text>
<text x="411.55" y="771.30" font-size="13.00" text-anchor="middle">2</text>
<text x="429.10" y="771.30" font-size="13.00" text-anchor="middle">3</text>
<text x="448.50" y="771.20" font-size="13.00" text-anchor="middle">0</text>
<text x="485.15" y="771.20" font-size="13.00" text-anchor="middle">2</text>
<text x="502.70" y="771.20" font-size="13.00" text-anchor="middle">3</text></g>
</svg>
</body></html>
